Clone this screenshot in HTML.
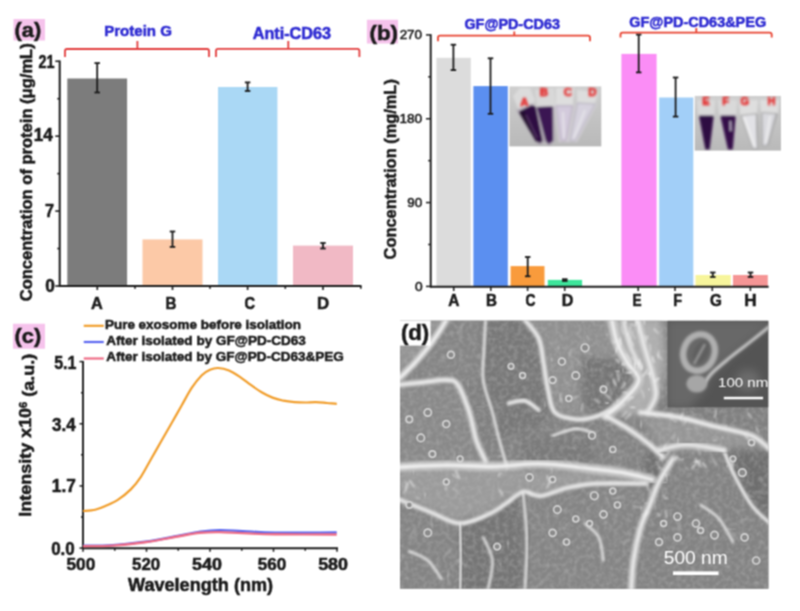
<!DOCTYPE html><html><head><meta charset="utf-8"><style>html,body{margin:0;padding:0;background:#fff;}svg{display:block;}text{font-family:"Liberation Sans", sans-serif;}</style></head><body>
<svg width="800" height="611" viewBox="0 0 800 611">
<defs><filter id="soft" x="0" y="0" width="800" height="611" filterUnits="userSpaceOnUse" color-interpolation-filters="sRGB"><feConvolveMatrix order="3" kernelMatrix="1 2 1 2 4 2 1 2 1" divisor="16" edgeMode="duplicate"/></filter></defs>
<g filter="url(#soft)">
<rect width="800" height="611" fill="#ffffff"/>
<rect x="13.5" y="19" width="31.5" height="21.5" fill="#f6c3ec" />
<text x="14.62" y="36.65" font-size="21" font-weight="bold" fill="#1a1a1a" textLength="26.67" lengthAdjust="spacingAndGlyphs" stroke="#1a1a1a" stroke-width="0.55">(a)</text>
<text x="104.2" y="36.15" font-size="15.2" font-weight="bold" fill="#2e2bd2" textLength="67.76" lengthAdjust="spacingAndGlyphs" stroke="#2e2bd2" stroke-width="0.55">Protein G</text>
<text x="252.7" y="38.95" font-size="16.0" font-weight="bold" fill="#2e2bd2" textLength="78.34" lengthAdjust="spacingAndGlyphs" stroke="#2e2bd2" stroke-width="0.55">Anti-CD63</text>
<path d="M65 57 L65 51 Q65 49 67 49 L207 49 Q209 49 209 51 L209 57 M137.4 49 L137.4 41" fill="none" stroke="#e23a3a" stroke-width="1.8"/>
<path d="M216 57 L216 50.8 Q216 48.8 218 48.8 L357.4 48.8 Q359.4 48.8 359.4 50.8 L359.4 57 M288.3 48.8 L288.3 41" fill="none" stroke="#e23a3a" stroke-width="1.8"/>
<rect x="67.3" y="78.5" width="59.8" height="207.5" fill="#7c7c7c" />
<rect x="142.5" y="239.4" width="60" height="46.599999999999994" fill="#fcc9a7" />
<rect x="218" y="87" width="59.4" height="199.0" fill="#aad8f5" />
<rect x="293" y="245.6" width="60" height="40.400000000000006" fill="#f1b9c5" />
<line x1="97.2" y1="63.1" x2="97.2" y2="92.5" stroke="#1a1a1a" stroke-width="1.8" />
<line x1="94.45" y1="63.1" x2="99.95" y2="63.1" stroke="#1a1a1a" stroke-width="1.8" />
<line x1="94.45" y1="92.5" x2="99.95" y2="92.5" stroke="#1a1a1a" stroke-width="1.8" />
<line x1="172.5" y1="231.5" x2="172.5" y2="246.9" stroke="#1a1a1a" stroke-width="1.8" />
<line x1="169.75" y1="231.5" x2="175.25" y2="231.5" stroke="#1a1a1a" stroke-width="1.8" />
<line x1="169.75" y1="246.9" x2="175.25" y2="246.9" stroke="#1a1a1a" stroke-width="1.8" />
<line x1="247.6" y1="82.4" x2="247.6" y2="91" stroke="#1a1a1a" stroke-width="1.8" />
<line x1="244.85" y1="82.4" x2="250.35" y2="82.4" stroke="#1a1a1a" stroke-width="1.8" />
<line x1="244.85" y1="91" x2="250.35" y2="91" stroke="#1a1a1a" stroke-width="1.8" />
<line x1="323" y1="243" x2="323" y2="248.5" stroke="#1a1a1a" stroke-width="1.8" />
<line x1="320.25" y1="243" x2="325.75" y2="243" stroke="#1a1a1a" stroke-width="1.8" />
<line x1="320.25" y1="248.5" x2="325.75" y2="248.5" stroke="#1a1a1a" stroke-width="1.8" />
<line x1="59.7" y1="60.5" x2="59.7" y2="286.8" stroke="#1a1a1a" stroke-width="2" />
<line x1="58.8" y1="285.9" x2="361.5" y2="285.9" stroke="#1a1a1a" stroke-width="2" />
<line x1="55.3" y1="286.0" x2="59.7" y2="286.0" stroke="#1a1a1a" stroke-width="1.6" />
<line x1="55.3" y1="211.08333333333331" x2="59.7" y2="211.08333333333331" stroke="#1a1a1a" stroke-width="1.6" />
<line x1="55.3" y1="136.16666666666666" x2="59.7" y2="136.16666666666666" stroke="#1a1a1a" stroke-width="1.6" />
<line x1="55.3" y1="61.25" x2="59.7" y2="61.25" stroke="#1a1a1a" stroke-width="1.6" />
<line x1="57.3" y1="248.54166666666666" x2="59.7" y2="248.54166666666666" stroke="#1a1a1a" stroke-width="1.6" />
<line x1="57.3" y1="173.625" x2="59.7" y2="173.625" stroke="#1a1a1a" stroke-width="1.6" />
<line x1="57.3" y1="98.70833333333334" x2="59.7" y2="98.70833333333334" stroke="#1a1a1a" stroke-width="1.6" />
<line x1="97.3" y1="285.9" x2="97.3" y2="290" stroke="#1a1a1a" stroke-width="1.6" />
<line x1="172.5" y1="285.9" x2="172.5" y2="290" stroke="#1a1a1a" stroke-width="1.6" />
<line x1="247.6" y1="285.9" x2="247.6" y2="290" stroke="#1a1a1a" stroke-width="1.6" />
<line x1="323" y1="285.9" x2="323" y2="290" stroke="#1a1a1a" stroke-width="1.6" />
<line x1="135" y1="285.9" x2="135" y2="288.8" stroke="#1a1a1a" stroke-width="1.6" />
<line x1="210" y1="285.9" x2="210" y2="288.8" stroke="#1a1a1a" stroke-width="1.6" />
<line x1="285.3" y1="285.9" x2="285.3" y2="288.8" stroke="#1a1a1a" stroke-width="1.6" />
<line x1="360.8" y1="285.9" x2="360.8" y2="288.8" stroke="#1a1a1a" stroke-width="1.6" />
<text x="38.62" y="67.88" font-size="18" font-weight="bold" fill="#1a1a1a" textLength="16.03" lengthAdjust="spacingAndGlyphs" stroke="#1a1a1a" stroke-width="0.55">21</text>
<text x="33.75" y="140.62" font-size="18" font-weight="bold" fill="#1a1a1a" textLength="19.03" lengthAdjust="spacingAndGlyphs" stroke="#1a1a1a" stroke-width="0.55">14</text>
<text x="45.12" y="217.25" font-size="18" font-weight="bold" fill="#1a1a1a" textLength="9.02" lengthAdjust="spacingAndGlyphs" stroke="#1a1a1a" stroke-width="0.55">7</text>
<text x="45.2" y="291.5" font-size="18" font-weight="bold" fill="#1a1a1a" textLength="9.62" lengthAdjust="spacingAndGlyphs" stroke="#1a1a1a" stroke-width="0.55">0</text>
<text x="91.02" y="308.95" font-size="17.4" font-weight="bold" fill="#1a1a1a" textLength="11.76" lengthAdjust="spacingAndGlyphs" stroke="#1a1a1a" stroke-width="0.55">A</text>
<text x="165.58" y="309.15" font-size="17.4" font-weight="bold" fill="#1a1a1a" textLength="10.96" lengthAdjust="spacingAndGlyphs" stroke="#1a1a1a" stroke-width="0.55">B</text>
<text x="244.4" y="309.25" font-size="17.4" font-weight="bold" fill="#1a1a1a" textLength="10.56" lengthAdjust="spacingAndGlyphs" stroke="#1a1a1a" stroke-width="0.55">C</text>
<text x="316.92" y="309.15" font-size="17.4" font-weight="bold" fill="#1a1a1a" textLength="12.16" lengthAdjust="spacingAndGlyphs" stroke="#1a1a1a" stroke-width="0.55">D</text>
<text transform="translate(31.85,301.3) rotate(-90)" font-size="16.5" font-weight="bold" fill="#1a1a1a" textLength="257.98" lengthAdjust="spacingAndGlyphs" stroke="#1a1a1a" stroke-width="0.55">Concentration of protein (μg/mL)</text>
<rect x="366.9" y="19.75" width="31.1" height="23.75" fill="#f6c3ec" />
<text x="369.55" y="39.9" font-size="21" font-weight="bold" fill="#1a1a1a" textLength="28.43" lengthAdjust="spacingAndGlyphs" stroke="#1a1a1a" stroke-width="0.55">(b)</text>
<rect x="436.4" y="57.8" width="34.400000000000034" height="228.59999999999997" fill="#dcdcdc" />
<rect x="473.4" y="86.1" width="34.400000000000034" height="200.29999999999998" fill="#5b8ff0" />
<rect x="510.6" y="266.1" width="33.89999999999998" height="20.299999999999955" fill="#f99b3c" />
<rect x="547.8" y="279.9" width="34.30000000000007" height="6.5" fill="#3ee59b" />
<rect x="621.4" y="53.9" width="35.200000000000045" height="232.49999999999997" fill="#fb8df6" />
<rect x="659.2" y="97.5" width="34.09999999999991" height="188.89999999999998" fill="#a2cff8" />
<rect x="695.5" y="275" width="35.200000000000045" height="11.399999999999977" fill="#f7f59c" />
<rect x="733" y="275" width="34.799999999999955" height="11.399999999999977" fill="#f59595" />
<defs><linearGradient id="ig1" x1="0" y1="0" x2="0" y2="1"><stop offset="0" stop-color="#cfcfcf"/><stop offset="0.35" stop-color="#c6c6c6"/><stop offset="1" stop-color="#b9b9b9"/></linearGradient><filter id="pb" x="-60%" y="-60%" width="220%" height="220%"><feGaussianBlur stdDeviation="0.8"/></filter><clipPath id="ic1"><rect x="509.4" y="86.4" width="91.9" height="60"/></clipPath><clipPath id="ic2"><rect x="694.75" y="95.9" width="86.2" height="54.7"/></clipPath></defs>
<rect x="509.4" y="86.4" width="91.9" height="60" fill="url(#ig1)" />
<g clip-path="url(#ic1)"><g filter="url(#pb)">
<path d="M513 96 L520 88 L530 88 L535 100 L533 106 L519 111 Z" fill="#dedede" opacity="0.85" />
<path d="M535 90 L554 88 L556 106 L537 107 Z" fill="#dadada" opacity="0.85" />
<path d="M556 88 L574 88 L573 106 L556 106 Z" fill="#e2e2e2" opacity="0.85" />
<path d="M577 90 L598 92 L595 104 L577 103 Z" fill="#e0e0e0" opacity="0.85" />
<path d="M516 110 L533 103 L546 141 L540 145 L536 143 Z" fill="#a9a0ae" opacity="0.7" />
<path d="M535 107 L554 106 L555 141 L549 146 L545 142 Z" fill="#a9a0ae" opacity="0.7" />
<path d="M554.5 105 L574 105 L568 142 L559 142 Z" fill="#d9d4de" opacity="0.9" />
<path d="M576 102 L597 104 L577 142 L568 142 Z" fill="#d6d3da" opacity="0.9" />
<path d="M518.8 111.4 L531.9 105.1 L535.6 107 L542.5 140.8 L540 143.3 L536 140.8 Z" fill="#2f0f42" opacity="1" />
<path d="M519 113 L524 111 L537 141 L536 142 Z" fill="#1f0a2a" opacity="0.8" />
<path d="M536.9 107 L552.5 106.4 L553 140.8 L548.8 143.9 L546 140.8 Z" fill="#3a1253" opacity="1" />
<path d="M556 105.8 L572.5 105.8 L566 140.8 L561 140.8 Z" fill="#d3cadc" opacity="1" stroke="#a8a0b0" stroke-width="0.8"/>
<path d="M577.5 103 L595 104 L575 140.8 L570 140.8 Z" fill="#d6d2de" opacity="1" stroke="#a8a4b0" stroke-width="0.8"/>
<path d="M526 115 L537 138" stroke="#6a4a7a" stroke-width="1.5" opacity="0.7"/>
<path d="M563 112 L564 138" stroke="#f0f0f0" stroke-width="1.5" opacity="0.8"/>
<path d="M585 110 L574 138" stroke="#f0f0f0" stroke-width="1.5" opacity="0.8"/>
</g>
<text x="524.4" y="105.6" font-size="11.5" font-weight="bold" text-anchor="middle" fill="#e62222" filter="url(#pb)" stroke="#e62222" stroke-width="0.5">A</text>
<text x="544" y="96.3" font-size="11.5" font-weight="bold" text-anchor="middle" fill="#e62222" filter="url(#pb)" stroke="#e62222" stroke-width="0.5">B</text>
<text x="567.9" y="95.7" font-size="11.5" font-weight="bold" text-anchor="middle" fill="#e62222" filter="url(#pb)" stroke="#e62222" stroke-width="0.5">C</text>
<text x="592.5" y="96.4" font-size="11.5" font-weight="bold" text-anchor="middle" fill="#e62222" filter="url(#pb)" stroke="#e62222" stroke-width="0.5">D</text>
</g>
<rect x="694.75" y="95.9" width="86.2" height="54.7" fill="url(#ig1)" />
<g clip-path="url(#ic2)"><g filter="url(#pb)">
<path d="M697 100 L715 100 L714.5 116 L698 116 Z" fill="#dcdcdc" opacity="0.85" />
<path d="M718 100 L737 100 L736.5 116 L719 116 Z" fill="#dcdcdc" opacity="0.85" />
<path d="M739 100 L758 100 L757 115 L740 115 Z" fill="#e2e2e2" opacity="0.85" />
<path d="M760 100 L779 100 L778 114 L761 114 Z" fill="#e2e2e2" opacity="0.85" />
<path d="M698.9 115.5 L713.75 115.5 L709.6 149.4 L705.4 149.4 Z" fill="#2f0b42" opacity="1" />
<path d="M720.3 115.5 L735.7 115.5 L732.75 149.4 L728 149.4 Z" fill="#340c4a" opacity="1" />
<path d="M730.4 121 L730.6 131" stroke="#e8e0f0" stroke-width="1.6" opacity="0.85"/>
<path d="M741 115.5 L756.5 113.75 L757.7 148.8 L753 148.8 Z" fill="#e2e2e6" opacity="1" stroke="#9c9c9c" stroke-width="1"/>
<path d="M744 117 L754 146" stroke="#f4f4f4" stroke-width="2" opacity="0.9"/>
<path d="M756.5 114 L757.5 148" stroke="#9a9a9a" stroke-width="1.2" opacity="0.8"/>
<path d="M761.9 112.6 L777.3 113.75 L767.2 145.8 L762.4 145.8 Z" fill="#d9d9de" opacity="1" stroke="#a0a0a0" stroke-width="1"/>
<path d="M770 116 L766 143" stroke="#f2f2f2" stroke-width="1.8" opacity="0.9"/>
<path d="M776 114 L768 145" stroke="#999999" stroke-width="1.1" opacity="0.7"/>
</g>
<text x="706" y="104.8" font-size="11" font-weight="bold" text-anchor="middle" fill="#e62222" filter="url(#pb)" stroke="#e62222" stroke-width="0.5">E</text>
<text x="725.5" y="104.8" font-size="11" font-weight="bold" text-anchor="middle" fill="#e62222" filter="url(#pb)" stroke="#e62222" stroke-width="0.5">F</text>
<text x="744.7" y="105.4" font-size="11" font-weight="bold" text-anchor="middle" fill="#e62222" filter="url(#pb)" stroke="#e62222" stroke-width="0.5">G</text>
<text x="771.6" y="104.8" font-size="11" font-weight="bold" text-anchor="middle" fill="#e62222" filter="url(#pb)" stroke="#e62222" stroke-width="0.5">H</text>
</g>
<line x1="453.4" y1="44.7" x2="453.4" y2="70.1" stroke="#1a1a1a" stroke-width="1.8" />
<line x1="450.65" y1="44.7" x2="456.15" y2="44.7" stroke="#1a1a1a" stroke-width="1.8" />
<line x1="450.65" y1="70.1" x2="456.15" y2="70.1" stroke="#1a1a1a" stroke-width="1.8" />
<line x1="490.5" y1="58.3" x2="490.5" y2="113.8" stroke="#1a1a1a" stroke-width="1.8" />
<line x1="487.75" y1="58.3" x2="493.25" y2="58.3" stroke="#1a1a1a" stroke-width="1.8" />
<line x1="487.75" y1="113.8" x2="493.25" y2="113.8" stroke="#1a1a1a" stroke-width="1.8" />
<line x1="527.7" y1="257" x2="527.7" y2="276.3" stroke="#1a1a1a" stroke-width="1.8" />
<line x1="524.95" y1="257" x2="530.45" y2="257" stroke="#1a1a1a" stroke-width="1.8" />
<line x1="524.95" y1="276.3" x2="530.45" y2="276.3" stroke="#1a1a1a" stroke-width="1.8" />
<line x1="564.8" y1="279.2" x2="564.8" y2="281" stroke="#1a1a1a" stroke-width="1.8" />
<line x1="562.05" y1="279.2" x2="567.55" y2="279.2" stroke="#1a1a1a" stroke-width="1.8" />
<line x1="562.05" y1="281" x2="567.55" y2="281" stroke="#1a1a1a" stroke-width="1.8" />
<line x1="638.7" y1="34.6" x2="638.7" y2="72.4" stroke="#1a1a1a" stroke-width="1.8" />
<line x1="635.95" y1="34.6" x2="641.45" y2="34.6" stroke="#1a1a1a" stroke-width="1.8" />
<line x1="635.95" y1="72.4" x2="641.45" y2="72.4" stroke="#1a1a1a" stroke-width="1.8" />
<line x1="675.6" y1="77.5" x2="675.6" y2="116.6" stroke="#1a1a1a" stroke-width="1.8" />
<line x1="672.85" y1="77.5" x2="678.35" y2="77.5" stroke="#1a1a1a" stroke-width="1.8" />
<line x1="672.85" y1="116.6" x2="678.35" y2="116.6" stroke="#1a1a1a" stroke-width="1.8" />
<line x1="712.8" y1="272.5" x2="712.8" y2="277" stroke="#1a1a1a" stroke-width="1.8" />
<line x1="710.05" y1="272.5" x2="715.55" y2="272.5" stroke="#1a1a1a" stroke-width="1.8" />
<line x1="710.05" y1="277" x2="715.55" y2="277" stroke="#1a1a1a" stroke-width="1.8" />
<line x1="750.5" y1="272.5" x2="750.5" y2="277" stroke="#1a1a1a" stroke-width="1.8" />
<line x1="747.75" y1="272.5" x2="753.25" y2="272.5" stroke="#1a1a1a" stroke-width="1.8" />
<line x1="747.75" y1="277" x2="753.25" y2="277" stroke="#1a1a1a" stroke-width="1.8" />
<line x1="430.7" y1="34.2" x2="430.7" y2="287.5" stroke="#1a1a1a" stroke-width="1.9" />
<line x1="430" y1="286.75" x2="768.6" y2="286.75" stroke="#1a1a1a" stroke-width="1.9" />
<line x1="426" y1="286.4" x2="430.7" y2="286.4" stroke="#1a1a1a" stroke-width="1.5" />
<line x1="426" y1="202.56666666666666" x2="430.7" y2="202.56666666666666" stroke="#1a1a1a" stroke-width="1.5" />
<line x1="426" y1="118.73333333333332" x2="430.7" y2="118.73333333333332" stroke="#1a1a1a" stroke-width="1.5" />
<line x1="426" y1="34.900000000000006" x2="430.7" y2="34.900000000000006" stroke="#1a1a1a" stroke-width="1.5" />
<line x1="428.2" y1="244.48333333333332" x2="430.7" y2="244.48333333333332" stroke="#1a1a1a" stroke-width="1.5" />
<line x1="428.2" y1="160.64999999999998" x2="430.7" y2="160.64999999999998" stroke="#1a1a1a" stroke-width="1.5" />
<line x1="428.2" y1="76.81666666666666" x2="430.7" y2="76.81666666666666" stroke="#1a1a1a" stroke-width="1.5" />
<line x1="453.7" y1="286.75" x2="453.7" y2="291" stroke="#1a1a1a" stroke-width="1.5" />
<line x1="490.8" y1="286.75" x2="490.8" y2="291" stroke="#1a1a1a" stroke-width="1.5" />
<line x1="527.6" y1="286.75" x2="527.6" y2="291" stroke="#1a1a1a" stroke-width="1.5" />
<line x1="564.7" y1="286.75" x2="564.7" y2="291" stroke="#1a1a1a" stroke-width="1.5" />
<line x1="638.2" y1="286.75" x2="638.2" y2="291" stroke="#1a1a1a" stroke-width="1.5" />
<line x1="675" y1="286.75" x2="675" y2="291" stroke="#1a1a1a" stroke-width="1.5" />
<line x1="712.3" y1="286.75" x2="712.3" y2="291" stroke="#1a1a1a" stroke-width="1.5" />
<line x1="750.4" y1="286.75" x2="750.4" y2="291" stroke="#1a1a1a" stroke-width="1.5" />
<text x="399.65" y="39.07" font-size="13.4" font-weight="normal" fill="#1a1a1a" textLength="22.34" lengthAdjust="spacingAndGlyphs" stroke="#1a1a1a" stroke-width="0.55">270</text>
<text x="399.4" y="122.6" font-size="13.4" font-weight="normal" fill="#1a1a1a" textLength="22.74" lengthAdjust="spacingAndGlyphs" stroke="#1a1a1a" stroke-width="0.55">180</text>
<text x="407.25" y="206.95" font-size="13.4" font-weight="normal" fill="#1a1a1a" textLength="14.91" lengthAdjust="spacingAndGlyphs" stroke="#1a1a1a" stroke-width="0.55">90</text>
<text x="415.1" y="290.7" font-size="13.4" font-weight="normal" fill="#1a1a1a" textLength="7.65" lengthAdjust="spacingAndGlyphs" stroke="#1a1a1a" stroke-width="0.55">0</text>
<text x="448.35" y="305.8" font-size="16" font-weight="bold" fill="#1a1a1a" textLength="11.16" lengthAdjust="spacingAndGlyphs" stroke="#1a1a1a" stroke-width="0.55">A</text>
<text x="486.1" y="305.8" font-size="16" font-weight="bold" fill="#1a1a1a" textLength="10.96" lengthAdjust="spacingAndGlyphs" stroke="#1a1a1a" stroke-width="0.55">B</text>
<text x="525.6" y="305.85" font-size="16" font-weight="bold" fill="#1a1a1a" textLength="9.96" lengthAdjust="spacingAndGlyphs" stroke="#1a1a1a" stroke-width="0.55">C</text>
<text x="561.85" y="305.8" font-size="16" font-weight="bold" fill="#1a1a1a" textLength="11.56" lengthAdjust="spacingAndGlyphs" stroke="#1a1a1a" stroke-width="0.55">D</text>
<text x="632.55" y="306.2" font-size="16" font-weight="bold" fill="#1a1a1a" textLength="9.07" lengthAdjust="spacingAndGlyphs" stroke="#1a1a1a" stroke-width="0.55">E</text>
<text x="673.15" y="306.2" font-size="16" font-weight="bold" fill="#1a1a1a" textLength="8.78" lengthAdjust="spacingAndGlyphs" stroke="#1a1a1a" stroke-width="0.55">F</text>
<text x="710.0" y="306.25" font-size="16" font-weight="bold" fill="#1a1a1a" textLength="11.85" lengthAdjust="spacingAndGlyphs" stroke="#1a1a1a" stroke-width="0.55">G</text>
<text x="744.15" y="306.2" font-size="16" font-weight="bold" fill="#1a1a1a" textLength="12.36" lengthAdjust="spacingAndGlyphs" stroke="#1a1a1a" stroke-width="0.55">H</text>
<text transform="translate(395.75,259.45) rotate(-90)" font-size="16.5" font-weight="bold" fill="#1a1a1a" textLength="180.3" lengthAdjust="spacingAndGlyphs" stroke="#1a1a1a" stroke-width="0.55">Concentration (mg/mL)</text>
<text x="464.45" y="28.73" font-size="14.2" font-weight="bold" fill="#2e2bd2" textLength="95.45" lengthAdjust="spacingAndGlyphs" stroke="#2e2bd2" stroke-width="0.55">GF@PD-CD63</text>
<text x="629.25" y="26.75" font-size="14.0" font-weight="bold" fill="#2e2bd2" textLength="136.87" lengthAdjust="spacingAndGlyphs" stroke="#2e2bd2" stroke-width="0.55">GF@PD-CD63&amp;PEG</text>
<path d="M438 41.2 L438 37.6 Q438 35.6 440 35.6 L588 35.6 Q590 35.6 590 37.6 L590 41.2 M514.3 35.6 L514.3 31.4" fill="none" stroke="#e8402e" stroke-width="1.8"/>
<path d="M620.5 37.5 L620.5 34.6 Q620.5 32.6 622.5 32.6 L769.7 32.6 Q771.7 32.6 771.7 34.6 L771.7 37.5 M696.3 32.6 L696.3 28" fill="none" stroke="#e8402e" stroke-width="1.8"/>
<rect x="13" y="323.75" width="32" height="25" fill="#f6c3ec" />
<text x="14.5" y="343.0" font-size="21" font-weight="bold" fill="#1a1a1a" textLength="26.67" lengthAdjust="spacingAndGlyphs" stroke="#1a1a1a" stroke-width="0.55">(c)</text>
<line x1="83" y1="361" x2="83" y2="549" stroke="#1a1a1a" stroke-width="1.9" />
<line x1="82.2" y1="548.2" x2="338" y2="548.2" stroke="#1a1a1a" stroke-width="1.9" />
<line x1="79.5" y1="548.1" x2="83" y2="548.1" stroke="#1a1a1a" stroke-width="1.5" />
<line x1="79.5" y1="485.93333333333334" x2="83" y2="485.93333333333334" stroke="#1a1a1a" stroke-width="1.5" />
<line x1="79.5" y1="423.7666666666667" x2="83" y2="423.7666666666667" stroke="#1a1a1a" stroke-width="1.5" />
<line x1="79.5" y1="361.6" x2="83" y2="361.6" stroke="#1a1a1a" stroke-width="1.5" />
<line x1="81" y1="517.0166666666667" x2="83" y2="517.0166666666667" stroke="#1a1a1a" stroke-width="1.5" />
<line x1="81" y1="454.85" x2="83" y2="454.85" stroke="#1a1a1a" stroke-width="1.5" />
<line x1="81" y1="392.68333333333334" x2="83" y2="392.68333333333334" stroke="#1a1a1a" stroke-width="1.5" />
<line x1="83.0" y1="548.2" x2="83.0" y2="551.8" stroke="#1a1a1a" stroke-width="1.5" />
<line x1="114.75" y1="548.2" x2="114.75" y2="550.8" stroke="#1a1a1a" stroke-width="1.5" />
<line x1="146.5" y1="548.2" x2="146.5" y2="551.8" stroke="#1a1a1a" stroke-width="1.5" />
<line x1="178.25" y1="548.2" x2="178.25" y2="550.8" stroke="#1a1a1a" stroke-width="1.5" />
<line x1="210.0" y1="548.2" x2="210.0" y2="551.8" stroke="#1a1a1a" stroke-width="1.5" />
<line x1="241.75" y1="548.2" x2="241.75" y2="550.8" stroke="#1a1a1a" stroke-width="1.5" />
<line x1="273.5" y1="548.2" x2="273.5" y2="551.8" stroke="#1a1a1a" stroke-width="1.5" />
<line x1="305.25" y1="548.2" x2="305.25" y2="550.8" stroke="#1a1a1a" stroke-width="1.5" />
<line x1="337.0" y1="548.2" x2="337.0" y2="551.8" stroke="#1a1a1a" stroke-width="1.5" />
<text x="54.18" y="369.0" font-size="18.4" font-weight="bold" fill="#1a1a1a" textLength="22.18" lengthAdjust="spacingAndGlyphs" stroke="#1a1a1a" stroke-width="0.55">5.1</text>
<text x="52.0" y="430.55" font-size="18.4" font-weight="bold" fill="#1a1a1a" textLength="23.58" lengthAdjust="spacingAndGlyphs" stroke="#1a1a1a" stroke-width="0.55">3.4</text>
<text x="51.85" y="492.3" font-size="18.4" font-weight="bold" fill="#1a1a1a" textLength="23.98" lengthAdjust="spacingAndGlyphs" stroke="#1a1a1a" stroke-width="0.55">1.7</text>
<text x="51.15" y="555.25" font-size="18.4" font-weight="bold" fill="#1a1a1a" textLength="23.58" lengthAdjust="spacingAndGlyphs" stroke="#1a1a1a" stroke-width="0.55">0.0</text>
<text x="66.55" y="570.35" font-size="17.2" font-weight="bold" fill="#1a1a1a" textLength="28.69" lengthAdjust="spacingAndGlyphs" stroke="#1a1a1a" stroke-width="0.55">500</text>
<text x="132.05" y="570.35" font-size="17.2" font-weight="bold" fill="#1a1a1a" textLength="28.09" lengthAdjust="spacingAndGlyphs" stroke="#1a1a1a" stroke-width="0.55">520</text>
<text x="192.05" y="570.4" font-size="17.2" font-weight="bold" fill="#1a1a1a" textLength="29.89" lengthAdjust="spacingAndGlyphs" stroke="#1a1a1a" stroke-width="0.55">540</text>
<text x="257.8" y="570.4" font-size="17.2" font-weight="bold" fill="#1a1a1a" textLength="28.49" lengthAdjust="spacingAndGlyphs" stroke="#1a1a1a" stroke-width="0.55">560</text>
<text x="318.15" y="570.4" font-size="17.2" font-weight="bold" fill="#1a1a1a" textLength="29.89" lengthAdjust="spacingAndGlyphs" stroke="#1a1a1a" stroke-width="0.55">580</text>
<text x="128.0" y="591.2" font-size="17.6" font-weight="bold" fill="#1a1a1a" textLength="145.08" lengthAdjust="spacingAndGlyphs" stroke="#1a1a1a" stroke-width="0.55">Wavelength (nm)</text>
<text transform="translate(31.4,516.7) rotate(-90)" font-size="16.6" font-weight="bold" fill="#1a1a1a" textLength="162.9" lengthAdjust="spacingAndGlyphs" stroke="#1a1a1a" stroke-width="0.55">Intensity x10<tspan font-size="0.62em" dy="-0.42em">6</tspan><tspan dy="0.42em"> (a.u.)</tspan></text>
<line x1="83.75" y1="325.8" x2="103.75" y2="325.8" stroke="#f19d2a" stroke-width="2.2" />
<line x1="83.75" y1="342" x2="103.75" y2="342" stroke="#5a66f0" stroke-width="2.2" />
<line x1="83.75" y1="358.5" x2="103.75" y2="358.5" stroke="#ee6c86" stroke-width="2.2" />
<text x="104.95" y="328.55" font-size="13.2" font-weight="bold" fill="#1c1c1c" textLength="196.02" lengthAdjust="spacingAndGlyphs" stroke="#1c1c1c" stroke-width="0.55">Pure exosome before isolation</text>
<text x="106.2" y="344.8" font-size="13.2" font-weight="bold" fill="#1c1c1c" textLength="199.59" lengthAdjust="spacingAndGlyphs" stroke="#1c1c1c" stroke-width="0.55">After isolated by GF@PD-CD63</text>
<text x="106.15" y="361.05" font-size="13.2" font-weight="bold" fill="#1c1c1c" textLength="237.57" lengthAdjust="spacingAndGlyphs" stroke="#1c1c1c" stroke-width="0.55">After isolated by GF@PD-CD63&amp;PEG</text>
<path d="M83 545.7 C87.9 545.6 102.2 545.8 112.5 545.1 C122.8 544.5 134.2 543.3 145.0 541.8 C155.8 540.3 168.3 537.7 177.5 536.0 C186.7 534.3 193.2 532.8 200.2 531.8 C207.2 530.8 212.6 530.2 219.7 530.1 C226.8 530.0 233.3 530.7 242.5 531.1 C251.7 531.5 259.3 532.5 275.0 532.7 C290.7 532.9 326.4 532.5 336.7 532.5" fill="none" stroke="#5a66f0" stroke-width="2.4"/>
<path d="M83 546.2 C87.9 546.1 102.2 546.3 112.5 545.6 C122.8 544.9 134.2 543.7 145.0 542.2 C155.8 540.7 168.3 538.1 177.5 536.5 C186.7 534.9 193.2 533.5 200.2 532.8 C207.2 532.1 212.6 532.0 219.7 532.1 C226.8 532.2 233.3 532.8 242.5 533.1 C251.7 533.5 259.3 534.0 275.0 534.2 C290.7 534.4 326.4 534.5 336.7 534.5" fill="none" stroke="#ee6c86" stroke-width="2.4"/>
<path d="M83 511 C85.0 510.8 91.5 510.6 95.2 509.7 C98.9 508.8 101.6 507.6 105.4 505.9 C109.2 504.2 113.9 502.4 118.1 499.6 C122.3 496.9 127.0 493.2 130.8 489.4 C134.6 485.6 137.5 481.9 140.9 476.8 C144.3 471.7 147.7 464.9 151.1 459.0 C154.5 453.1 157.8 447.1 161.2 441.2 C164.6 435.3 168.0 429.4 171.4 423.5 C174.8 417.6 178.1 411.6 181.5 405.7 C184.9 399.8 188.3 393.0 191.7 387.9 C195.1 382.8 198.8 378.2 201.8 375.2 C204.9 372.2 207.3 371.0 210.0 369.8 C212.7 368.6 214.9 367.9 218.1 368.0 C221.3 368.1 225.4 368.9 229.0 370.4 C232.6 371.9 236.3 374.4 239.9 376.8 C243.5 379.2 247.2 382.3 250.8 384.9 C254.4 387.5 258.0 390.1 261.6 392.2 C265.2 394.3 268.9 396.2 272.5 397.6 C276.1 399.0 279.8 399.9 283.4 400.7 C287.0 401.4 290.7 401.8 294.3 402.1 C297.9 402.4 301.5 402.5 305.1 402.5 C308.7 402.5 312.4 402.0 316.0 402.1 C319.6 402.2 323.4 402.7 326.9 403.0 C330.4 403.3 335.1 403.8 336.8 403.9" fill="none" stroke="#f19d2a" stroke-width="2.2"/>
<defs><clipPath id="semclip"><rect x="400" y="320.6" width="368.5" height="268.2"/></clipPath><filter id="b1" x="-30%" y="-30%" width="160%" height="160%"><feGaussianBlur stdDeviation="4"/></filter><filter id="b2" x="-30%" y="-30%" width="160%" height="160%"><feGaussianBlur stdDeviation="0.85"/></filter><filter id="b3" x="-20%" y="-20%" width="140%" height="140%"><feGaussianBlur stdDeviation="2.5"/></filter><filter id="b5" x="-50%" y="-50%" width="200%" height="200%"><feGaussianBlur stdDeviation="0.55"/></filter><filter id="b4" x="-20%" y="-20%" width="140%" height="140%"><feGaussianBlur stdDeviation="1.2"/></filter><filter id="noise" x="0" y="0" width="100%" height="100%"><feTurbulence type="fractalNoise" baseFrequency="0.22" numOctaves="2" seed="4"/><feColorMatrix type="matrix" values="0 0 0 0 0.5  0 0 0 0 0.5  0 0 0 0 0.5  1.6 0 0 0 -0.6"/></filter></defs>
<g clip-path="url(#semclip)">
<rect x="400" y="320.6" width="368.5" height="268.2" fill="#808080" />
<path d="M395.4 315.4 L446.3 315.4 L439.3 331.6 L427.8 347.8 L413.9 363.9 L400.0 377.8 L395.4 377.8 Z" fill="#949494" opacity="1" filter="url(#b1)"/>
<path d="M446.3 315.4 L485.6 315.4 L483.3 380.1 L457.8 384.8 L446.3 380.1 L423.1 382.4 L395.4 384.8 L400.0 377.8 L413.9 363.9 L427.8 347.8 L439.3 331.6 Z" fill="#858585" opacity="1" filter="url(#b1)"/>
<path d="M485.6 315.4 L524.9 315.4 L538.8 338.5 L543.4 361.6 L548.0 389.4 L554.9 412.5 L538.8 431.0 L499.4 440.3 L492.5 412.5 L483.3 380.1 Z" fill="#787878" opacity="1" filter="url(#b1)"/>
<path d="M524.9 315.4 L617.4 315.4 L626.6 375.5 L631.3 394.0 L617.4 412.5 L594.3 417.1 L575.8 419.4 L554.9 412.5 L548.0 389.4 L543.4 361.6 L538.8 338.5 Z" fill="#909090" opacity="1" filter="url(#b1)"/>
<path d="M611 318 L662 318 L666 360 L660 395 L645 415 L615 420 L604 416 L625 398 L638 380 L626 362 L616 342 Z" fill="#afafaf" opacity="1" filter="url(#b1)"/>
<path d="M580 356 L622 360 L634 380 L620 400 L600 416 L583 410 Z" fill="#757575" opacity="1" filter="url(#b1)"/>
<path d="M395.4 384.8 L423.1 382.4 L446.3 380.1 L457.8 384.8 L469.4 412.5 L476.3 440.3 L485.6 461.1 L478.6 468.0 L395.4 468.0 Z" fill="#898989" opacity="1" filter="url(#b1)"/>
<path d="M476.3 440.3 L499.4 440.3 L538.8 431.0 L554.9 412.5 L575.8 419.4 L594.3 417.1 L617.4 412.5 L640.5 419.4 L649.8 468.0 L485.6 465.7 Z" fill="#838383" opacity="1" filter="url(#b1)"/>
<path d="M640.5 412.5 L677.5 417.1 L714.5 426.4 L751.5 435.6 L774.7 449.5 L774.7 458.8 L723.8 454.1 L686.8 449.5 L659.0 454.1 Z" fill="#969696" opacity="1" filter="url(#b1)"/>
<path d="M723.8 449.5 L774.7 449.5 L774.7 523.5 L751.5 505.0 L733.0 472.6 Z" fill="#6e6e6e" opacity="1" filter="url(#b1)"/>
<path d="M395.4 464.3 L446.3 464.3 L492.5 465.7 L538.8 463.4 L585.0 467.1 L622.0 471.7 L652.1 479.6 L646 483.7 L596 483.7 L567 488 L541 496 L523 492 L506 503.6 L488 514.6 L459.6 523.4 L430 512 L398 500 Z" fill="#9b9b9b" opacity="1" filter="url(#b1)"/>
<path d="M398 500 L430 512 L459.6 523.4 L462 592 L398 592 Z" fill="#848484" opacity="1" filter="url(#b1)"/>
<path d="M459.6 523.4 L488 514.6 L506 503.6 L523 492 L527 592 L462 592 Z" fill="#757575" opacity="1" filter="url(#b1)"/>
<path d="M524.9 502.7 L538.8 500.4 L594.3 488.8 L640.5 481.9 L649.8 479.6 L659.0 481.9 L649.8 505.0 L640.5 528.1 L633.6 560.5 L631.3 597.5 L524.9 597.5 Z" fill="#858585" opacity="1" filter="url(#b1)"/>
<path d="M672.9 458.8 L723.8 454.1 L733.0 472.6 L751.5 505.0 L774.7 523.5 L774.7 597.5 L631.3 597.5 L633.6 560.5 L640.5 528.1 L649.8 505.0 L659.0 481.9 Z" fill="#838383" opacity="1" filter="url(#b1)"/>
<path d="M646 452 L662 452 L662 488 L646 490 Z" fill="#707070" opacity="1" filter="url(#b1)"/>
<path d="M520.3 435.6 L594.3 435.6 L594.3 468.0 L520.3 468.0 Z" fill="#7a7a7a" opacity="1" filter="url(#b1)"/>
<rect x="400" y="320.6" width="368.5" height="268.2" filter="url(#noise)" opacity="0.5"/>
<path d="M400.0 377.8 C402.3 375.5 409.3 368.9 413.9 363.9 C418.5 358.9 423.6 353.2 427.8 347.8 C432.0 342.4 436.2 336.2 439.3 331.6 C442.4 327.0 445.1 321.9 446.3 320.0" transform="translate(1.6,1.8)" fill="none" stroke="#5a5a5a" stroke-width="3.3" stroke-linejoin="round" stroke-linecap="round" opacity="0.35" filter="url(#b4)"/>
<path d="M400.0 377.8 C402.3 375.5 409.3 368.9 413.9 363.9 C418.5 358.9 423.6 353.2 427.8 347.8 C432.0 342.4 436.2 336.2 439.3 331.6 C442.4 327.0 445.1 321.9 446.3 320.0" fill="none" stroke="#dedede" stroke-width="8" stroke-linejoin="round" stroke-linecap="round" opacity="0.62" filter="url(#b4)"/>
<path d="M400.0 377.8 C402.3 375.5 409.3 368.9 413.9 363.9 C418.5 358.9 423.6 353.2 427.8 347.8 C432.0 342.4 436.2 336.2 439.3 331.6 C442.4 327.0 445.1 321.9 446.3 320.0" fill="none" stroke="#f2f2f2" stroke-width="3" stroke-linejoin="round" stroke-linecap="round" opacity="1" filter="url(#b2)"/>
<path d="M400.0 384.8 C403.9 384.4 415.4 383.2 423.1 382.4 C430.8 381.6 440.5 379.7 446.3 380.1 C452.1 380.5 454.0 379.4 457.8 384.8 C461.6 390.2 466.3 403.2 469.4 412.5 C472.5 421.8 473.6 432.2 476.3 440.3 C479.0 448.4 484.1 457.6 485.6 461.1" transform="translate(1.6,1.8)" fill="none" stroke="#5a5a5a" stroke-width="2.9" stroke-linejoin="round" stroke-linecap="round" opacity="0.35" filter="url(#b4)"/>
<path d="M400.0 384.8 C403.9 384.4 415.4 383.2 423.1 382.4 C430.8 381.6 440.5 379.7 446.3 380.1 C452.1 380.5 454.0 379.4 457.8 384.8 C461.6 390.2 466.3 403.2 469.4 412.5 C472.5 421.8 473.6 432.2 476.3 440.3 C479.0 448.4 484.1 457.6 485.6 461.1" fill="none" stroke="#dedede" stroke-width="7" stroke-linejoin="round" stroke-linecap="round" opacity="0.62" filter="url(#b4)"/>
<path d="M400.0 384.8 C403.9 384.4 415.4 383.2 423.1 382.4 C430.8 381.6 440.5 379.7 446.3 380.1 C452.1 380.5 454.0 379.4 457.8 384.8 C461.6 390.2 466.3 403.2 469.4 412.5 C472.5 421.8 473.6 432.2 476.3 440.3 C479.0 448.4 484.1 457.6 485.6 461.1" fill="none" stroke="#f2f2f2" stroke-width="2.6" stroke-linejoin="round" stroke-linecap="round" opacity="1" filter="url(#b2)"/>
<path d="M485.6 320.0 C485.4 324.6 484.6 337.8 484.2 347.8 C483.8 357.8 481.9 369.3 483.3 380.1 C484.7 390.9 489.8 402.5 492.5 412.5 C495.2 422.5 496.9 431.1 499.4 440.3 C501.9 449.6 506.0 463.4 507.3 468.0" transform="translate(1.6,1.8)" fill="none" stroke="#5a5a5a" stroke-width="1.9" stroke-linejoin="round" stroke-linecap="round" opacity="0.35" filter="url(#b4)"/>
<path d="M485.6 320.0 C485.4 324.6 484.6 337.8 484.2 347.8 C483.8 357.8 481.9 369.3 483.3 380.1 C484.7 390.9 489.8 402.5 492.5 412.5 C495.2 422.5 496.9 431.1 499.4 440.3 C501.9 449.6 506.0 463.4 507.3 468.0" fill="none" stroke="#dedede" stroke-width="3" stroke-linejoin="round" stroke-linecap="round" opacity="0.62" filter="url(#b4)"/>
<path d="M485.6 320.0 C485.4 324.6 484.6 337.8 484.2 347.8 C483.8 357.8 481.9 369.3 483.3 380.1 C484.7 390.9 489.8 402.5 492.5 412.5 C495.2 422.5 496.9 431.1 499.4 440.3 C501.9 449.6 506.0 463.4 507.3 468.0" fill="none" stroke="#f2f2f2" stroke-width="1.4" stroke-linejoin="round" stroke-linecap="round" opacity="1" filter="url(#b2)"/>
<path d="M524.9 320.0 C527.2 323.1 535.7 331.6 538.8 338.5 C541.9 345.4 541.9 353.1 543.4 361.6 C544.9 370.1 546.1 380.9 548.0 389.4 C549.9 397.9 550.3 407.5 554.9 412.5 C559.5 417.5 569.2 418.6 575.8 419.4 C582.4 420.2 587.4 419.0 594.3 417.1 C601.2 415.2 613.5 409.4 617.4 407.9" transform="translate(1.6,1.8)" fill="none" stroke="#5a5a5a" stroke-width="2.8" stroke-linejoin="round" stroke-linecap="round" opacity="0.35" filter="url(#b4)"/>
<path d="M524.9 320.0 C527.2 323.1 535.7 331.6 538.8 338.5 C541.9 345.4 541.9 353.1 543.4 361.6 C544.9 370.1 546.1 380.9 548.0 389.4 C549.9 397.9 550.3 407.5 554.9 412.5 C559.5 417.5 569.2 418.6 575.8 419.4 C582.4 420.2 587.4 419.0 594.3 417.1 C601.2 415.2 613.5 409.4 617.4 407.9" fill="none" stroke="#dedede" stroke-width="6" stroke-linejoin="round" stroke-linecap="round" opacity="0.62" filter="url(#b4)"/>
<path d="M524.9 320.0 C527.2 323.1 535.7 331.6 538.8 338.5 C541.9 345.4 541.9 353.1 543.4 361.6 C544.9 370.1 546.1 380.9 548.0 389.4 C549.9 397.9 550.3 407.5 554.9 412.5 C559.5 417.5 569.2 418.6 575.8 419.4 C582.4 420.2 587.4 419.0 594.3 417.1 C601.2 415.2 613.5 409.4 617.4 407.9" fill="none" stroke="#f2f2f2" stroke-width="2.4" stroke-linejoin="round" stroke-linecap="round" opacity="1" filter="url(#b2)"/>
<path d="M508.7 403.3 C511.4 402.9 519.9 399.8 524.9 400.9 C529.9 402.0 536.5 408.6 538.8 410.2" transform="translate(1.6,1.8)" fill="none" stroke="#5a5a5a" stroke-width="2.6" stroke-linejoin="round" stroke-linecap="round" opacity="0.35" filter="url(#b4)"/>
<path d="M508.7 403.3 C511.4 402.9 519.9 399.8 524.9 400.9 C529.9 402.0 536.5 408.6 538.8 410.2" fill="none" stroke="#dedede" stroke-width="5" stroke-linejoin="round" stroke-linecap="round" opacity="0.62" filter="url(#b4)"/>
<path d="M508.7 403.3 C511.4 402.9 519.9 399.8 524.9 400.9 C529.9 402.0 536.5 408.6 538.8 410.2" fill="none" stroke="#f2f2f2" stroke-width="2.2" stroke-linejoin="round" stroke-linecap="round" opacity="1" filter="url(#b2)"/>
<path d="M612 320 C612.8 323.7 614.5 335.0 617.0 342.0 C619.5 349.0 623.3 355.7 627.0 362.0 C630.7 368.3 639.3 373.8 639.0 380.0 C638.7 386.2 630.5 393.0 625.0 399.0 C619.5 405.0 609.2 413.2 606.0 416.0" transform="translate(1.6,1.8)" fill="none" stroke="#5a5a5a" stroke-width="3.5" stroke-linejoin="round" stroke-linecap="round" opacity="0.35" filter="url(#b4)"/>
<path d="M612 320 C612.8 323.7 614.5 335.0 617.0 342.0 C619.5 349.0 623.3 355.7 627.0 362.0 C630.7 368.3 639.3 373.8 639.0 380.0 C638.7 386.2 630.5 393.0 625.0 399.0 C619.5 405.0 609.2 413.2 606.0 416.0" fill="none" stroke="#dedede" stroke-width="10" stroke-linejoin="round" stroke-linecap="round" opacity="0.62" filter="url(#b4)"/>
<path d="M612 320 C612.8 323.7 614.5 335.0 617.0 342.0 C619.5 349.0 623.3 355.7 627.0 362.0 C630.7 368.3 639.3 373.8 639.0 380.0 C638.7 386.2 630.5 393.0 625.0 399.0 C619.5 405.0 609.2 413.2 606.0 416.0" fill="none" stroke="#f2f2f2" stroke-width="3.2" stroke-linejoin="round" stroke-linecap="round" opacity="1" filter="url(#b2)"/>
<path d="M638 320 C639.0 324.2 641.7 336.3 644.0 345.0 C646.3 353.7 650.0 363.7 652.0 372.0 C654.0 380.3 656.7 388.3 656.0 395.0 C655.3 401.7 649.3 409.2 648.0 412.0" transform="translate(1.6,1.8)" fill="none" stroke="#5a5a5a" stroke-width="2.8" stroke-linejoin="round" stroke-linecap="round" opacity="0.35" filter="url(#b4)"/>
<path d="M638 320 C639.0 324.2 641.7 336.3 644.0 345.0 C646.3 353.7 650.0 363.7 652.0 372.0 C654.0 380.3 656.7 388.3 656.0 395.0 C655.3 401.7 649.3 409.2 648.0 412.0" fill="none" stroke="#dedede" stroke-width="8" stroke-linejoin="round" stroke-linecap="round" opacity="0.62" filter="url(#b4)"/>
<path d="M638 320 C639.0 324.2 641.7 336.3 644.0 345.0 C646.3 353.7 650.0 363.7 652.0 372.0 C654.0 380.3 656.7 388.3 656.0 395.0 C655.3 401.7 649.3 409.2 648.0 412.0" fill="none" stroke="#f2f2f2" stroke-width="2.4" stroke-linejoin="round" stroke-linecap="round" opacity="1" filter="url(#b2)"/>
<path d="M624 322 C625.0 325.8 627.2 337.3 630.0 345.0 C632.8 352.7 639.2 364.2 641.0 368.0" transform="translate(1.6,1.8)" fill="none" stroke="#5a5a5a" stroke-width="2.0" stroke-linejoin="round" stroke-linecap="round" opacity="0.35" filter="url(#b4)"/>
<path d="M624 322 C625.0 325.8 627.2 337.3 630.0 345.0 C632.8 352.7 639.2 364.2 641.0 368.0" fill="none" stroke="#dedede" stroke-width="6" stroke-linejoin="round" stroke-linecap="round" opacity="0.62" filter="url(#b4)"/>
<path d="M624 322 C625.0 325.8 627.2 337.3 630.0 345.0 C632.8 352.7 639.2 364.2 641.0 368.0" fill="none" stroke="#f2f2f2" stroke-width="1.6" stroke-linejoin="round" stroke-linecap="round" opacity="1" filter="url(#b2)"/>
<path d="M606 416 C610.0 418.3 622.7 425.2 630.0 430.0 C637.3 434.8 644.5 440.5 650.0 445.0 C655.5 449.5 660.8 455.0 663.0 457.0" transform="translate(1.6,1.8)" fill="none" stroke="#5a5a5a" stroke-width="2.9" stroke-linejoin="round" stroke-linecap="round" opacity="0.35" filter="url(#b4)"/>
<path d="M606 416 C610.0 418.3 622.7 425.2 630.0 430.0 C637.3 434.8 644.5 440.5 650.0 445.0 C655.5 449.5 660.8 455.0 663.0 457.0" fill="none" stroke="#dedede" stroke-width="7" stroke-linejoin="round" stroke-linecap="round" opacity="0.62" filter="url(#b4)"/>
<path d="M606 416 C610.0 418.3 622.7 425.2 630.0 430.0 C637.3 434.8 644.5 440.5 650.0 445.0 C655.5 449.5 660.8 455.0 663.0 457.0" fill="none" stroke="#f2f2f2" stroke-width="2.6" stroke-linejoin="round" stroke-linecap="round" opacity="1" filter="url(#b2)"/>
<path d="M640.5 412.5 C646.7 413.3 665.2 414.8 677.5 417.1 C689.8 419.4 702.2 423.3 714.5 426.4 C726.8 429.5 742.2 431.8 751.5 435.6 C760.8 439.5 766.9 447.2 770.0 449.5" transform="translate(1.6,1.8)" fill="none" stroke="#5a5a5a" stroke-width="2.9" stroke-linejoin="round" stroke-linecap="round" opacity="0.35" filter="url(#b4)"/>
<path d="M640.5 412.5 C646.7 413.3 665.2 414.8 677.5 417.1 C689.8 419.4 702.2 423.3 714.5 426.4 C726.8 429.5 742.2 431.8 751.5 435.6 C760.8 439.5 766.9 447.2 770.0 449.5" fill="none" stroke="#dedede" stroke-width="7" stroke-linejoin="round" stroke-linecap="round" opacity="0.62" filter="url(#b4)"/>
<path d="M640.5 412.5 C646.7 413.3 665.2 414.8 677.5 417.1 C689.8 419.4 702.2 423.3 714.5 426.4 C726.8 429.5 742.2 431.8 751.5 435.6 C760.8 439.5 766.9 447.2 770.0 449.5" fill="none" stroke="#f2f2f2" stroke-width="2.6" stroke-linejoin="round" stroke-linecap="round" opacity="1" filter="url(#b2)"/>
<path d="M723.8 450.4 C725.3 454.1 728.4 463.5 733.0 472.6 C737.6 481.7 745.3 496.5 751.5 505.0 C757.7 513.5 766.9 520.4 770.0 523.5" transform="translate(1.6,1.8)" fill="none" stroke="#5a5a5a" stroke-width="2.4" stroke-linejoin="round" stroke-linecap="round" opacity="0.35" filter="url(#b4)"/>
<path d="M723.8 450.4 C725.3 454.1 728.4 463.5 733.0 472.6 C737.6 481.7 745.3 496.5 751.5 505.0 C757.7 513.5 766.9 520.4 770.0 523.5" fill="none" stroke="#dedede" stroke-width="4" stroke-linejoin="round" stroke-linecap="round" opacity="0.62" filter="url(#b4)"/>
<path d="M723.8 450.4 C725.3 454.1 728.4 463.5 733.0 472.6 C737.6 481.7 745.3 496.5 751.5 505.0 C757.7 513.5 766.9 520.4 770.0 523.5" fill="none" stroke="#f2f2f2" stroke-width="2" stroke-linejoin="round" stroke-linecap="round" opacity="1" filter="url(#b2)"/>
<path d="M400.0 467.1 C407.7 466.8 430.9 465.3 446.3 465.2 C461.7 465.1 477.1 466.8 492.5 466.6 C507.9 466.4 523.4 463.6 538.8 463.8 C554.2 464.0 571.1 466.5 585.0 468.0 C598.9 469.5 610.8 470.7 622.0 472.6 C633.2 474.5 647.1 478.4 652.1 479.6" transform="translate(1.6,1.8)" fill="none" stroke="#5a5a5a" stroke-width="3.8" stroke-linejoin="round" stroke-linecap="round" opacity="0.35" filter="url(#b4)"/>
<path d="M400.0 467.1 C407.7 466.8 430.9 465.3 446.3 465.2 C461.7 465.1 477.1 466.8 492.5 466.6 C507.9 466.4 523.4 463.6 538.8 463.8 C554.2 464.0 571.1 466.5 585.0 468.0 C598.9 469.5 610.8 470.7 622.0 472.6 C633.2 474.5 647.1 478.4 652.1 479.6" fill="none" stroke="#dedede" stroke-width="10" stroke-linejoin="round" stroke-linecap="round" opacity="0.62" filter="url(#b4)"/>
<path d="M400.0 467.1 C407.7 466.8 430.9 465.3 446.3 465.2 C461.7 465.1 477.1 466.8 492.5 466.6 C507.9 466.4 523.4 463.6 538.8 463.8 C554.2 464.0 571.1 466.5 585.0 468.0 C598.9 469.5 610.8 470.7 622.0 472.6 C633.2 474.5 647.1 478.4 652.1 479.6" fill="none" stroke="#f2f2f2" stroke-width="3.6" stroke-linejoin="round" stroke-linecap="round" opacity="1" filter="url(#b2)"/>
<path d="M400 500 C405.0 502.0 420.1 508.1 430.0 512.0 C439.9 515.9 449.9 523.0 459.6 523.4 C469.3 523.8 480.3 517.9 488.0 514.6 C495.7 511.3 500.2 507.4 506.0 503.6 C511.8 499.8 517.2 493.3 523.0 492.0 C528.8 490.7 533.7 496.7 541.0 496.0 C548.3 495.3 557.8 490.1 567.0 488.0 C576.2 485.9 582.8 484.4 596.0 483.7 C609.2 483.0 637.7 483.7 646.0 483.7" transform="translate(1.6,1.8)" fill="none" stroke="#5a5a5a" stroke-width="2.6" stroke-linejoin="round" stroke-linecap="round" opacity="0.35" filter="url(#b4)"/>
<path d="M400 500 C405.0 502.0 420.1 508.1 430.0 512.0 C439.9 515.9 449.9 523.0 459.6 523.4 C469.3 523.8 480.3 517.9 488.0 514.6 C495.7 511.3 500.2 507.4 506.0 503.6 C511.8 499.8 517.2 493.3 523.0 492.0 C528.8 490.7 533.7 496.7 541.0 496.0 C548.3 495.3 557.8 490.1 567.0 488.0 C576.2 485.9 582.8 484.4 596.0 483.7 C609.2 483.0 637.7 483.7 646.0 483.7" fill="none" stroke="#dedede" stroke-width="6" stroke-linejoin="round" stroke-linecap="round" opacity="0.62" filter="url(#b4)"/>
<path d="M400 500 C405.0 502.0 420.1 508.1 430.0 512.0 C439.9 515.9 449.9 523.0 459.6 523.4 C469.3 523.8 480.3 517.9 488.0 514.6 C495.7 511.3 500.2 507.4 506.0 503.6 C511.8 499.8 517.2 493.3 523.0 492.0 C528.8 490.7 533.7 496.7 541.0 496.0 C548.3 495.3 557.8 490.1 567.0 488.0 C576.2 485.9 582.8 484.4 596.0 483.7 C609.2 483.0 637.7 483.7 646.0 483.7" fill="none" stroke="#f2f2f2" stroke-width="2.2" stroke-linejoin="round" stroke-linecap="round" opacity="1" filter="url(#b2)"/>
<path d="M672.9 458.8 C670.6 462.6 662.9 474.2 659.0 481.9 C655.1 489.6 652.9 497.3 649.8 505.0 C646.7 512.7 643.2 518.9 640.5 528.1 C637.8 537.4 635.1 550.2 633.6 560.5 C632.1 570.8 631.7 585.2 631.3 590.1" transform="translate(1.6,1.8)" fill="none" stroke="#5a5a5a" stroke-width="2.9" stroke-linejoin="round" stroke-linecap="round" opacity="0.35" filter="url(#b4)"/>
<path d="M672.9 458.8 C670.6 462.6 662.9 474.2 659.0 481.9 C655.1 489.6 652.9 497.3 649.8 505.0 C646.7 512.7 643.2 518.9 640.5 528.1 C637.8 537.4 635.1 550.2 633.6 560.5 C632.1 570.8 631.7 585.2 631.3 590.1" fill="none" stroke="#dedede" stroke-width="8" stroke-linejoin="round" stroke-linecap="round" opacity="0.62" filter="url(#b4)"/>
<path d="M672.9 458.8 C670.6 462.6 662.9 474.2 659.0 481.9 C655.1 489.6 652.9 497.3 649.8 505.0 C646.7 512.7 643.2 518.9 640.5 528.1 C637.8 537.4 635.1 550.2 633.6 560.5 C632.1 570.8 631.7 585.2 631.3 590.1" fill="none" stroke="#f2f2f2" stroke-width="2.6" stroke-linejoin="round" stroke-linecap="round" opacity="1" filter="url(#b2)"/>
<path d="M459.6 523.4 C459.8 528.7 460.9 543.9 461.0 555.0 C461.1 566.1 460.2 584.2 460.0 590.0" transform="translate(1.6,1.8)" fill="none" stroke="#5a5a5a" stroke-width="1.9" stroke-linejoin="round" stroke-linecap="round" opacity="0.35" filter="url(#b4)"/>
<path d="M459.6 523.4 C459.8 528.7 460.9 543.9 461.0 555.0 C461.1 566.1 460.2 584.2 460.0 590.0" fill="none" stroke="#dedede" stroke-width="3" stroke-linejoin="round" stroke-linecap="round" opacity="0.62" filter="url(#b4)"/>
<path d="M459.6 523.4 C459.8 528.7 460.9 543.9 461.0 555.0 C461.1 566.1 460.2 584.2 460.0 590.0" fill="none" stroke="#f2f2f2" stroke-width="1.4" stroke-linejoin="round" stroke-linecap="round" opacity="1" filter="url(#b2)"/>
<path d="M523 492 C523.7 500.0 526.7 523.7 527.0 540.0 C527.3 556.3 525.3 581.7 525.0 590.0" transform="translate(1.6,1.8)" fill="none" stroke="#5a5a5a" stroke-width="1.7" stroke-linejoin="round" stroke-linecap="round" opacity="0.35" filter="url(#b4)"/>
<path d="M523 492 C523.7 500.0 526.7 523.7 527.0 540.0 C527.3 556.3 525.3 581.7 525.0 590.0" fill="none" stroke="#dedede" stroke-width="3" stroke-linejoin="round" stroke-linecap="round" opacity="0.62" filter="url(#b4)"/>
<path d="M523 492 C523.7 500.0 526.7 523.7 527.0 540.0 C527.3 556.3 525.3 581.7 525.0 590.0" fill="none" stroke="#f2f2f2" stroke-width="1.2" stroke-linejoin="round" stroke-linecap="round" opacity="1" filter="url(#b2)"/>
<path d="M659.0 450.4 C663.6 449.5 676.0 444.9 686.8 444.9 C697.6 444.9 717.6 449.5 723.8 450.4" transform="translate(1.6,1.8)" fill="none" stroke="#5a5a5a" stroke-width="2.8" stroke-linejoin="round" stroke-linecap="round" opacity="0.35" filter="url(#b4)"/>
<path d="M659.0 450.4 C663.6 449.5 676.0 444.9 686.8 444.9 C697.6 444.9 717.6 449.5 723.8 450.4" fill="none" stroke="#dedede" stroke-width="8" stroke-linejoin="round" stroke-linecap="round" opacity="0.62" filter="url(#b4)"/>
<path d="M659.0 450.4 C663.6 449.5 676.0 444.9 686.8 444.9 C697.6 444.9 717.6 449.5 723.8 450.4" fill="none" stroke="#f2f2f2" stroke-width="2.4" stroke-linejoin="round" stroke-linecap="round" opacity="1" filter="url(#b2)"/>
<path d="M552.6 435.6 C556.5 434.5 568.8 429.1 575.8 428.7 C582.8 428.3 591.2 432.5 594.3 433.3" transform="translate(1.6,1.8)" fill="none" stroke="#5a5a5a" stroke-width="1.9" stroke-linejoin="round" stroke-linecap="round" opacity="0.35" filter="url(#b4)"/>
<path d="M552.6 435.6 C556.5 434.5 568.8 429.1 575.8 428.7 C582.8 428.3 591.2 432.5 594.3 433.3" fill="none" stroke="#dedede" stroke-width="3" stroke-linejoin="round" stroke-linecap="round" opacity="0.62" filter="url(#b4)"/>
<path d="M552.6 435.6 C556.5 434.5 568.8 429.1 575.8 428.7 C582.8 428.3 591.2 432.5 594.3 433.3" fill="none" stroke="#f2f2f2" stroke-width="1.4" stroke-linejoin="round" stroke-linecap="round" opacity="1" filter="url(#b2)"/>
<path d="M409.3 551.3 C412.4 552.8 422.4 555.9 427.8 560.5 C433.2 565.1 439.3 575.9 441.6 579.0" transform="translate(1.6,1.8)" fill="none" stroke="#5a5a5a" stroke-width="1.8" stroke-linejoin="round" stroke-linecap="round" opacity="0.35" filter="url(#b4)"/>
<path d="M409.3 551.3 C412.4 552.8 422.4 555.9 427.8 560.5 C433.2 565.1 439.3 575.9 441.6 579.0" fill="none" stroke="#dedede" stroke-width="3" stroke-linejoin="round" stroke-linecap="round" opacity="0.62" filter="url(#b4)"/>
<path d="M409.3 551.3 C412.4 552.8 422.4 555.9 427.8 560.5 C433.2 565.1 439.3 575.9 441.6 579.0" fill="none" stroke="#f2f2f2" stroke-width="1.3" stroke-linejoin="round" stroke-linecap="round" opacity="1" filter="url(#b2)"/>
<path d="M483.3 537.4 C484.8 541.2 491.7 551.7 492.5 560.5 C493.3 569.3 488.7 585.2 487.9 590.1" transform="translate(1.6,1.8)" fill="none" stroke="#5a5a5a" stroke-width="1.7" stroke-linejoin="round" stroke-linecap="round" opacity="0.35" filter="url(#b4)"/>
<path d="M483.3 537.4 C484.8 541.2 491.7 551.7 492.5 560.5 C493.3 569.3 488.7 585.2 487.9 590.1" fill="none" stroke="#dedede" stroke-width="3" stroke-linejoin="round" stroke-linecap="round" opacity="0.62" filter="url(#b4)"/>
<path d="M483.3 537.4 C484.8 541.2 491.7 551.7 492.5 560.5 C493.3 569.3 488.7 585.2 487.9 590.1" fill="none" stroke="#f2f2f2" stroke-width="1.2" stroke-linejoin="round" stroke-linecap="round" opacity="1" filter="url(#b2)"/>
<path d="M700.6 505.0 C703.7 507.3 713.7 512.7 719.1 518.9 C724.5 525.1 730.7 538.1 733.0 542.0" transform="translate(1.6,1.8)" fill="none" stroke="#5a5a5a" stroke-width="1.7" stroke-linejoin="round" stroke-linecap="round" opacity="0.35" filter="url(#b4)"/>
<path d="M700.6 505.0 C703.7 507.3 713.7 512.7 719.1 518.9 C724.5 525.1 730.7 538.1 733.0 542.0" fill="none" stroke="#dedede" stroke-width="3" stroke-linejoin="round" stroke-linecap="round" opacity="0.62" filter="url(#b4)"/>
<path d="M700.6 505.0 C703.7 507.3 713.7 512.7 719.1 518.9 C724.5 525.1 730.7 538.1 733.0 542.0" fill="none" stroke="#f2f2f2" stroke-width="1.2" stroke-linejoin="round" stroke-linecap="round" opacity="1" filter="url(#b2)"/>
<path d="M585.0 523.5 C587.3 525.8 595.8 531.2 598.9 537.4 C602.0 543.6 602.7 556.6 603.5 560.5" transform="translate(1.6,1.8)" fill="none" stroke="#5a5a5a" stroke-width="1.7" stroke-linejoin="round" stroke-linecap="round" opacity="0.35" filter="url(#b4)"/>
<path d="M585.0 523.5 C587.3 525.8 595.8 531.2 598.9 537.4 C602.0 543.6 602.7 556.6 603.5 560.5" fill="none" stroke="#dedede" stroke-width="3" stroke-linejoin="round" stroke-linecap="round" opacity="0.62" filter="url(#b4)"/>
<path d="M585.0 523.5 C587.3 525.8 595.8 531.2 598.9 537.4 C602.0 543.6 602.7 556.6 603.5 560.5" fill="none" stroke="#f2f2f2" stroke-width="1.2" stroke-linejoin="round" stroke-linecap="round" opacity="1" filter="url(#b2)"/>
<path d="M628.9 333.0 q1.0 -4.0 1.8 -6.8" fill="none" stroke="#f2f2f2" stroke-width="1.5" stroke-linecap="round" opacity="0.53" filter="url(#b2)"/>
<path d="M637.3 324.7 q-2.0 -3.7 -0.8 -6.9" fill="none" stroke="#f2f2f2" stroke-width="1.5" stroke-linecap="round" opacity="0.87" filter="url(#b2)"/>
<path d="M619.7 338.3 q1.1 3.2 1.5 7.2" fill="none" stroke="#f2f2f2" stroke-width="1.5" stroke-linecap="round" opacity="0.94" filter="url(#b2)"/>
<path d="M616.1 384.7 q-2.8 -3.6 -2.5 -5.7" fill="none" stroke="#f2f2f2" stroke-width="1.5" stroke-linecap="round" opacity="0.87" filter="url(#b2)"/>
<path d="M622.3 364.5 q1.0 -2.8 1.7 -2.0" fill="none" stroke="#f2f2f2" stroke-width="1.5" stroke-linecap="round" opacity="0.53" filter="url(#b2)"/>
<path d="M623.5 371.7 q-0.1 -1.7 -0.9 -3.0" fill="none" stroke="#f2f2f2" stroke-width="1.5" stroke-linecap="round" opacity="0.63" filter="url(#b2)"/>
<path d="M650.5 373.0 q-1.4 2.1 -3.1 1.2" fill="none" stroke="#f2f2f2" stroke-width="1.5" stroke-linecap="round" opacity="0.83" filter="url(#b2)"/>
<path d="M627.2 393.6 q-1.3 -2.0 -4.6 -1.3" fill="none" stroke="#f2f2f2" stroke-width="1.5" stroke-linecap="round" opacity="0.72" filter="url(#b2)"/>
<path d="M615.8 370.8 q3.1 -0.2 3.2 1.2" fill="none" stroke="#f2f2f2" stroke-width="1.5" stroke-linecap="round" opacity="0.81" filter="url(#b2)"/>
<path d="M641.3 364.3 q1.5 2.6 -0.5 5.4" fill="none" stroke="#f2f2f2" stroke-width="1.5" stroke-linecap="round" opacity="0.80" filter="url(#b2)"/>
<path d="M616.8 373.2 q2.2 3.1 1.8 7.9" fill="none" stroke="#f2f2f2" stroke-width="1.5" stroke-linecap="round" opacity="0.67" filter="url(#b2)"/>
<path d="M644.8 323.6 q-1.8 -4.4 -0.5 -5.3" fill="none" stroke="#f2f2f2" stroke-width="1.5" stroke-linecap="round" opacity="0.85" filter="url(#b2)"/>
<path d="M619.9 340.1 q-2.3 2.8 -1.3 5.9" fill="none" stroke="#f2f2f2" stroke-width="1.5" stroke-linecap="round" opacity="0.75" filter="url(#b2)"/>
<path d="M654.6 381.8 q1.8 -2.3 4.4 -3.5" fill="none" stroke="#f2f2f2" stroke-width="1.5" stroke-linecap="round" opacity="0.90" filter="url(#b2)"/>
<path d="M658.1 333.0 q-3.0 -2.2 -3.9 -4.3" fill="none" stroke="#f2f2f2" stroke-width="1.5" stroke-linecap="round" opacity="0.77" filter="url(#b2)"/>
<path d="M626.1 322.3 q-0.2 0.8 -1.0 -2.1" fill="none" stroke="#f2f2f2" stroke-width="1.5" stroke-linecap="round" opacity="0.81" filter="url(#b2)"/>
<path d="M637.7 367.1 q2.7 -2.4 2.1 -7.1" fill="none" stroke="#f2f2f2" stroke-width="1.5" stroke-linecap="round" opacity="0.89" filter="url(#b2)"/>
<path d="M650.7 350.6 q-0.1 -4.9 -1.2 -6.3" fill="none" stroke="#f2f2f2" stroke-width="1.5" stroke-linecap="round" opacity="0.53" filter="url(#b2)"/>
<path d="M623.6 333.8 q-3.0 -5.0 -1.9 -7.2" fill="none" stroke="#f2f2f2" stroke-width="1.5" stroke-linecap="round" opacity="0.55" filter="url(#b2)"/>
<path d="M630.7 323.9 q0.8 -0.1 4.5 1.8" fill="none" stroke="#f2f2f2" stroke-width="1.5" stroke-linecap="round" opacity="0.66" filter="url(#b2)"/>
<path d="M630.8 331.0 q2.0 3.9 4.2 7.9" fill="none" stroke="#f2f2f2" stroke-width="1.5" stroke-linecap="round" opacity="0.54" filter="url(#b2)"/>
<path d="M618.7 347.0 q-2.8 0.7 -2.8 5.3" fill="none" stroke="#f2f2f2" stroke-width="1.5" stroke-linecap="round" opacity="0.93" filter="url(#b2)"/>
<path d="M638.3 332.7 q0.4 -1.9 0.5 -7.6" fill="none" stroke="#f2f2f2" stroke-width="1.5" stroke-linecap="round" opacity="0.89" filter="url(#b2)"/>
<path d="M646.0 341.1 q0.3 -2.5 -1.6 -5.3" fill="none" stroke="#f2f2f2" stroke-width="1.5" stroke-linecap="round" opacity="0.85" filter="url(#b2)"/>
<path d="M629.2 338.3 q3.3 5.1 3.7 7.8" fill="none" stroke="#f2f2f2" stroke-width="1.5" stroke-linecap="round" opacity="0.87" filter="url(#b2)"/>
<path d="M648.0 338.6 q-1.8 -3.0 0.2 -2.3" fill="none" stroke="#f2f2f2" stroke-width="1.5" stroke-linecap="round" opacity="0.63" filter="url(#b2)"/>
<path d="M625.9 372.6 q4.5 1.5 5.5 -0.8" fill="none" stroke="#f2f2f2" stroke-width="1.5" stroke-linecap="round" opacity="0.93" filter="url(#b2)"/>
<path d="M630.8 338.1 q-2.8 -1.9 -3.3 -4.9" fill="none" stroke="#f2f2f2" stroke-width="1.5" stroke-linecap="round" opacity="0.91" filter="url(#b2)"/>
<path d="M652.7 357.0 q-0.7 3.0 1.8 4.8" fill="none" stroke="#f2f2f2" stroke-width="1.5" stroke-linecap="round" opacity="0.91" filter="url(#b2)"/>
<path d="M650.0 376.8 q1.0 -3.2 -0.3 -5.1" fill="none" stroke="#f2f2f2" stroke-width="1.5" stroke-linecap="round" opacity="0.86" filter="url(#b2)"/>
<path d="M658.7 350.9 q0.3 2.3 -1.2 7.1" fill="none" stroke="#f2f2f2" stroke-width="1.5" stroke-linecap="round" opacity="0.56" filter="url(#b2)"/>
<path d="M621.0 388.1 q3.1 -0.9 3.7 -5.7" fill="none" stroke="#f2f2f2" stroke-width="1.5" stroke-linecap="round" opacity="0.80" filter="url(#b2)"/>
<path d="M630.1 362.1 q-0.3 -3.3 -4.4 -7.8" fill="none" stroke="#f2f2f2" stroke-width="1.5" stroke-linecap="round" opacity="0.74" filter="url(#b2)"/>
<path d="M656.9 353.7 q1.1 1.6 4.5 5.2" fill="none" stroke="#f2f2f2" stroke-width="1.5" stroke-linecap="round" opacity="0.63" filter="url(#b2)"/>
<path d="M625.1 364.8 q-2.9 1.0 -2.9 -1.3" fill="none" stroke="#f2f2f2" stroke-width="1.5" stroke-linecap="round" opacity="0.66" filter="url(#b2)"/>
<path d="M635.1 364.6 q4.1 -0.6 4.9 -1.3" fill="none" stroke="#f2f2f2" stroke-width="1.5" stroke-linecap="round" opacity="0.74" filter="url(#b2)"/>
<path d="M638.1 323.4 q-2.3 -1.3 -0.7 -5.1" fill="none" stroke="#f2f2f2" stroke-width="1.5" stroke-linecap="round" opacity="0.58" filter="url(#b2)"/>
<path d="M635.8 374.9 q0.4 -1.2 0.7 -2.8" fill="none" stroke="#f2f2f2" stroke-width="1.5" stroke-linecap="round" opacity="0.85" filter="url(#b2)"/>
<path d="M618.9 362.9 q-0.4 -1.8 -3.0 -3.6" fill="none" stroke="#f2f2f2" stroke-width="1.5" stroke-linecap="round" opacity="0.75" filter="url(#b2)"/>
<path d="M649.0 388.6 q-0.3 0.9 -0.7 1.8" fill="none" stroke="#f2f2f2" stroke-width="1.5" stroke-linecap="round" opacity="0.81" filter="url(#b2)"/>
<path d="M634.8 360.9 q0.7 5.0 -0.3 7.1" fill="none" stroke="#f2f2f2" stroke-width="1.5" stroke-linecap="round" opacity="0.92" filter="url(#b2)"/>
<path d="M625.9 362.8 q1.2 1.2 5.3 5.4" fill="none" stroke="#f2f2f2" stroke-width="1.5" stroke-linecap="round" opacity="0.70" filter="url(#b2)"/>
<path d="M617.3 339.6 q-1.4 2.9 -5.1 2.7" fill="none" stroke="#f2f2f2" stroke-width="1.5" stroke-linecap="round" opacity="0.57" filter="url(#b2)"/>
<path d="M646.9 370.2 q-0.3 1.9 -4.3 6.1" fill="none" stroke="#f2f2f2" stroke-width="1.5" stroke-linecap="round" opacity="0.93" filter="url(#b2)"/>
<path d="M632.3 357.6 q1.6 2.4 5.9 5.3" fill="none" stroke="#f2f2f2" stroke-width="1.5" stroke-linecap="round" opacity="0.73" filter="url(#b2)"/>
<path d="M619.2 399.5 q-3.0 2.0 -2.2 3.6" fill="none" stroke="#f2f2f2" stroke-width="1.5" stroke-linecap="round" opacity="0.70" filter="url(#b2)"/>
<path d="M606.7 402.6 q-1.0 2.0 1.5 0.2" fill="none" stroke="#f2f2f2" stroke-width="1.5" stroke-linecap="round" opacity="0.85" filter="url(#b2)"/>
<path d="M643.9 397.4 q-0.3 -4.6 -2.8 -7.4" fill="none" stroke="#f2f2f2" stroke-width="1.5" stroke-linecap="round" opacity="0.56" filter="url(#b2)"/>
<path d="M622.5 416.0 q0.5 -0.3 3.8 -3.9" fill="none" stroke="#f2f2f2" stroke-width="1.5" stroke-linecap="round" opacity="0.76" filter="url(#b2)"/>
<path d="M633.3 397.1 q-3.0 -0.2 -5.3 3.0" fill="none" stroke="#f2f2f2" stroke-width="1.5" stroke-linecap="round" opacity="0.92" filter="url(#b2)"/>
<path d="M630.7 413.4 q-4.2 4.3 -5.0 5.7" fill="none" stroke="#f2f2f2" stroke-width="1.5" stroke-linecap="round" opacity="0.70" filter="url(#b2)"/>
<path d="M619.2 407.7 q1.1 -1.7 5.1 -3.7" fill="none" stroke="#f2f2f2" stroke-width="1.5" stroke-linecap="round" opacity="0.61" filter="url(#b2)"/>
<path d="M610.3 398.7 q-3.4 -3.2 -5.4 -4.8" fill="none" stroke="#f2f2f2" stroke-width="1.5" stroke-linecap="round" opacity="0.84" filter="url(#b2)"/>
<path d="M617.3 406.5 q-3.9 -2.2 -3.9 -2.4" fill="none" stroke="#f2f2f2" stroke-width="1.5" stroke-linecap="round" opacity="0.51" filter="url(#b2)"/>
<path d="M634.6 407.7 q-0.1 -1.8 -3.7 -0.4" fill="none" stroke="#f2f2f2" stroke-width="1.5" stroke-linecap="round" opacity="0.87" filter="url(#b2)"/>
<path d="M693.9 462.4 q2.0 -0.1 4.0 -1.7" fill="none" stroke="#f2f2f2" stroke-width="1.3" stroke-linecap="round" opacity="0.94" filter="url(#b2)"/>
<path d="M685.8 467.5 q0.9 0.5 2.5 2.2" fill="none" stroke="#f2f2f2" stroke-width="1.3" stroke-linecap="round" opacity="0.52" filter="url(#b2)"/>
<path d="M666.7 456.1 q0.1 -3.6 2.9 -3.9" fill="none" stroke="#f2f2f2" stroke-width="1.3" stroke-linecap="round" opacity="0.88" filter="url(#b2)"/>
<path d="M733.3 465.1 q-2.1 -2.2 -2.6 -4.1" fill="none" stroke="#f2f2f2" stroke-width="1.3" stroke-linecap="round" opacity="0.57" filter="url(#b2)"/>
<path d="M695.1 458.9 q3.0 2.8 5.5 7.6" fill="none" stroke="#f2f2f2" stroke-width="1.3" stroke-linecap="round" opacity="0.93" filter="url(#b2)"/>
<path d="M682.9 460.3 q-3.1 -0.9 -6.0 -1.9" fill="none" stroke="#f2f2f2" stroke-width="1.3" stroke-linecap="round" opacity="0.59" filter="url(#b2)"/>
<path d="M700.4 455.1 q-1.8 -5.1 -2.8 -6.6" fill="none" stroke="#f2f2f2" stroke-width="1.3" stroke-linecap="round" opacity="0.51" filter="url(#b2)"/>
<path d="M682.4 458.5 q1.5 0.9 1.0 0.5" fill="none" stroke="#f2f2f2" stroke-width="1.3" stroke-linecap="round" opacity="0.82" filter="url(#b2)"/>
<path d="M734.1 460.8 q-2.4 4.8 -2.1 7.8" fill="none" stroke="#f2f2f2" stroke-width="1.3" stroke-linecap="round" opacity="0.79" filter="url(#b2)"/>
<path d="M658.9 467.5 q3.3 2.3 4.7 2.0" fill="none" stroke="#f2f2f2" stroke-width="1.3" stroke-linecap="round" opacity="0.56" filter="url(#b2)"/>
<path d="M702.1 462.6 q3.3 2.8 4.0 4.9" fill="none" stroke="#f2f2f2" stroke-width="1.3" stroke-linecap="round" opacity="0.90" filter="url(#b2)"/>
<path d="M716.5 465.4 q-3.1 -4.3 -3.2 -7.5" fill="none" stroke="#f2f2f2" stroke-width="1.3" stroke-linecap="round" opacity="0.55" filter="url(#b2)"/>
<path d="M730.2 463.4 q1.5 1.0 1.5 2.0" fill="none" stroke="#f2f2f2" stroke-width="1.3" stroke-linecap="round" opacity="0.50" filter="url(#b2)"/>
<path d="M726.8 466.2 q0.7 -1.5 0.0 0.6" fill="none" stroke="#f2f2f2" stroke-width="1.3" stroke-linecap="round" opacity="0.83" filter="url(#b2)"/>
<path d="M677.7 456.1 q-2.6 2.8 -2.8 3.7" fill="none" stroke="#f2f2f2" stroke-width="1.3" stroke-linecap="round" opacity="0.94" filter="url(#b2)"/>
<path d="M699.5 460.7 q0.9 1.9 -0.3 2.9" fill="none" stroke="#f2f2f2" stroke-width="1.3" stroke-linecap="round" opacity="0.79" filter="url(#b2)"/>
<path d="M662.0 457.2 q-2.3 2.2 -3.0 3.9" fill="none" stroke="#f2f2f2" stroke-width="1.3" stroke-linecap="round" opacity="0.51" filter="url(#b2)"/>
<path d="M660.5 459.0 q1.7 0.7 2.1 3.1" fill="none" stroke="#f2f2f2" stroke-width="1.3" stroke-linecap="round" opacity="0.73" filter="url(#b2)"/>
<path d="M696.8 462.0 q-3.5 5.1 -4.6 6.3" fill="none" stroke="#f2f2f2" stroke-width="1.3" stroke-linecap="round" opacity="0.92" filter="url(#b2)"/>
<path d="M656.6 461.9 q1.7 2.8 3.8 7.5" fill="none" stroke="#f2f2f2" stroke-width="1.3" stroke-linecap="round" opacity="0.59" filter="url(#b2)"/>
<path d="M666.5 480.5 q0.6 -1.1 1.0 -5.7" fill="none" stroke="#f2f2f2" stroke-width="1.3" stroke-linecap="round" opacity="0.56" filter="url(#b2)"/>
<path d="M663.0 495.4 q1.2 3.2 4.6 3.3" fill="none" stroke="#f2f2f2" stroke-width="1.3" stroke-linecap="round" opacity="0.72" filter="url(#b2)"/>
<path d="M640.7 470.2 q-0.8 -1.8 -0.1 -0.8" fill="none" stroke="#f2f2f2" stroke-width="1.3" stroke-linecap="round" opacity="0.65" filter="url(#b2)"/>
<path d="M648.9 512.0 q-1.6 0.5 -6.0 4.0" fill="none" stroke="#f2f2f2" stroke-width="1.3" stroke-linecap="round" opacity="0.92" filter="url(#b2)"/>
<path d="M660.0 515.1 q-1.7 1.0 -2.5 -2.0" fill="none" stroke="#f2f2f2" stroke-width="1.3" stroke-linecap="round" opacity="0.77" filter="url(#b2)"/>
<path d="M650.1 491.4 q-2.9 -2.3 -2.7 -7.2" fill="none" stroke="#f2f2f2" stroke-width="1.3" stroke-linecap="round" opacity="0.63" filter="url(#b2)"/>
<path d="M666.2 482.5 q-2.6 -0.4 -2.8 0.2" fill="none" stroke="#f2f2f2" stroke-width="1.3" stroke-linecap="round" opacity="0.93" filter="url(#b2)"/>
<path d="M664.8 510.6 q2.5 3.5 1.6 6.6" fill="none" stroke="#f2f2f2" stroke-width="1.3" stroke-linecap="round" opacity="0.82" filter="url(#b2)"/>
<path d="M641.4 506.6 q0.3 1.2 -0.6 4.0" fill="none" stroke="#f2f2f2" stroke-width="1.3" stroke-linecap="round" opacity="0.52" filter="url(#b2)"/>
<path d="M665.9 476.4 q-1.0 -0.3 -0.3 -2.5" fill="none" stroke="#f2f2f2" stroke-width="1.3" stroke-linecap="round" opacity="0.94" filter="url(#b2)"/>
<path d="M647.3 502.8 q-1.6 -0.9 -2.4 0.9" fill="none" stroke="#f2f2f2" stroke-width="1.3" stroke-linecap="round" opacity="0.57" filter="url(#b2)"/>
<path d="M645.8 515.3 q1.6 -0.3 -0.0 -4.5" fill="none" stroke="#f2f2f2" stroke-width="1.3" stroke-linecap="round" opacity="0.70" filter="url(#b2)"/>
<path d="M658.0 416.7 q-4.1 -2.3 -4.9 -2.5" fill="none" stroke="#f2f2f2" stroke-width="1.2" stroke-linecap="round" opacity="0.62" filter="url(#b2)"/>
<path d="M713.5 441.1 q1.2 -0.6 3.0 -1.4" fill="none" stroke="#f2f2f2" stroke-width="1.2" stroke-linecap="round" opacity="0.67" filter="url(#b2)"/>
<path d="M683.6 412.2 q-2.8 3.8 -2.7 7.5" fill="none" stroke="#f2f2f2" stroke-width="1.2" stroke-linecap="round" opacity="0.78" filter="url(#b2)"/>
<path d="M751.3 417.6 q-1.8 -2.2 -2.7 -4.0" fill="none" stroke="#f2f2f2" stroke-width="1.2" stroke-linecap="round" opacity="0.93" filter="url(#b2)"/>
<path d="M749.5 440.6 q-2.0 -2.2 -5.7 -7.5" fill="none" stroke="#f2f2f2" stroke-width="1.2" stroke-linecap="round" opacity="0.71" filter="url(#b2)"/>
<path d="M715.7 410.0 q0.7 4.8 -1.3 6.8" fill="none" stroke="#f2f2f2" stroke-width="1.2" stroke-linecap="round" opacity="0.94" filter="url(#b2)"/>
<path d="M672.1 413.8 q-1.3 1.9 -4.1 0.4" fill="none" stroke="#f2f2f2" stroke-width="1.2" stroke-linecap="round" opacity="0.82" filter="url(#b2)"/>
<path d="M723.5 436.8 q-2.1 1.5 -0.5 0.8" fill="none" stroke="#f2f2f2" stroke-width="1.2" stroke-linecap="round" opacity="0.60" filter="url(#b2)"/>
<path d="M758.7 432.6 q-2.2 -2.4 -2.4 -6.0" fill="none" stroke="#f2f2f2" stroke-width="1.2" stroke-linecap="round" opacity="0.81" filter="url(#b2)"/>
<path d="M654.5 412.5 q-0.3 -0.4 0.3 1.3" fill="none" stroke="#f2f2f2" stroke-width="1.2" stroke-linecap="round" opacity="0.77" filter="url(#b2)"/>
<path d="M641.3 420.6 q0.3 5.2 -0.5 7.3" fill="none" stroke="#f2f2f2" stroke-width="1.2" stroke-linecap="round" opacity="0.71" filter="url(#b2)"/>
<path d="M670.3 418.6 q2.0 -0.3 5.5 3.3" fill="none" stroke="#f2f2f2" stroke-width="1.2" stroke-linecap="round" opacity="0.72" filter="url(#b2)"/>
<path d="M727.0 424.7 q0.2 0.2 -2.9 2.7" fill="none" stroke="#f2f2f2" stroke-width="1.2" stroke-linecap="round" opacity="0.52" filter="url(#b2)"/>
<path d="M683.6 424.7 q2.3 -1.5 2.2 -4.8" fill="none" stroke="#f2f2f2" stroke-width="1.2" stroke-linecap="round" opacity="0.73" filter="url(#b2)"/>
<path d="M666.5 443.9 q-2.2 1.4 -2.3 5.1" fill="none" stroke="#f2f2f2" stroke-width="1.2" stroke-linecap="round" opacity="0.84" filter="url(#b2)"/>
<path d="M678.0 443.3 q-1.1 -2.8 -0.1 -5.0" fill="none" stroke="#f2f2f2" stroke-width="1.2" stroke-linecap="round" opacity="0.80" filter="url(#b2)"/>
<path d="M551.8 472.7 q1.3 -3.7 -1.3 -4.6" fill="none" stroke="#f2f2f2" stroke-width="1.2" stroke-linecap="round" opacity="0.52" filter="url(#b2)"/>
<path d="M409.6 480.6 q3.3 5.1 4.8 6.1" fill="none" stroke="#f2f2f2" stroke-width="1.2" stroke-linecap="round" opacity="0.92" filter="url(#b2)"/>
<path d="M452.7 473.9 q0.7 2.6 5.2 3.9" fill="none" stroke="#f2f2f2" stroke-width="1.2" stroke-linecap="round" opacity="0.67" filter="url(#b2)"/>
<path d="M459.8 478.6 q-2.9 -4.6 -4.0 -8.0" fill="none" stroke="#f2f2f2" stroke-width="1.2" stroke-linecap="round" opacity="0.93" filter="url(#b2)"/>
<path d="M419.8 498.9 q-0.5 0.1 -3.5 -2.3" fill="none" stroke="#f2f2f2" stroke-width="1.2" stroke-linecap="round" opacity="0.69" filter="url(#b2)"/>
<path d="M407.9 483.2 q-2.0 2.8 -1.5 6.7" fill="none" stroke="#f2f2f2" stroke-width="1.2" stroke-linecap="round" opacity="0.90" filter="url(#b2)"/>
<path d="M404.8 481.1 q0.0 0.3 3.7 4.3" fill="none" stroke="#f2f2f2" stroke-width="1.2" stroke-linecap="round" opacity="0.53" filter="url(#b2)"/>
<path d="M547.2 476.2 q0.8 2.3 3.0 6.4" fill="none" stroke="#f2f2f2" stroke-width="1.2" stroke-linecap="round" opacity="0.93" filter="url(#b2)"/>
<path d="M498.7 476.4 q0.4 -3.5 2.6 -2.9" fill="none" stroke="#f2f2f2" stroke-width="1.2" stroke-linecap="round" opacity="0.84" filter="url(#b2)"/>
<path d="M546.6 488.3 q1.6 -3.9 5.3 -7.6" fill="none" stroke="#f2f2f2" stroke-width="1.2" stroke-linecap="round" opacity="0.93" filter="url(#b2)"/>
<path d="M552.6 480.4 q-1.5 1.2 -3.0 -1.1" fill="none" stroke="#f2f2f2" stroke-width="1.2" stroke-linecap="round" opacity="0.58" filter="url(#b2)"/>
<path d="M528.4 491.6 q2.4 1.5 3.9 4.4" fill="none" stroke="#f2f2f2" stroke-width="1.2" stroke-linecap="round" opacity="0.64" filter="url(#b2)"/>
<path d="M457.9 493.0 q-1.5 -3.4 -5.1 -4.8" fill="none" stroke="#f2f2f2" stroke-width="1.2" stroke-linecap="round" opacity="0.53" filter="url(#b2)"/>
<path d="M405.4 485.7 q0.5 5.8 -2.1 7.7" fill="none" stroke="#f2f2f2" stroke-width="1.2" stroke-linecap="round" opacity="0.62" filter="url(#b2)"/>
<path d="M413.5 471.1 q-0.2 0.6 -0.0 3.4" fill="none" stroke="#f2f2f2" stroke-width="1.2" stroke-linecap="round" opacity="0.69" filter="url(#b2)"/>
<path d="M499.2 489.6 q2.1 1.3 3.0 5.6" fill="none" stroke="#f2f2f2" stroke-width="1.2" stroke-linecap="round" opacity="0.88" filter="url(#b2)"/>
<path d="M447.0 486.1 q-2.0 0.9 -1.5 3.8" fill="none" stroke="#f2f2f2" stroke-width="1.2" stroke-linecap="round" opacity="0.61" filter="url(#b2)"/>
<path d="M424.5 496.3 q0.1 0.6 0.9 -2.8" fill="none" stroke="#f2f2f2" stroke-width="1.2" stroke-linecap="round" opacity="0.73" filter="url(#b2)"/>
<path d="M560.0 393.7 q-0.7 3.8 1.8 7.9" fill="none" stroke="#f2f2f2" stroke-width="1.1" stroke-linecap="round" opacity="0.87" filter="url(#b2)"/>
<path d="M599.6 402.7 q-4.3 -2.9 -5.5 -3.3" fill="none" stroke="#f2f2f2" stroke-width="1.1" stroke-linecap="round" opacity="0.94" filter="url(#b2)"/>
<path d="M582.9 404.1 q-1.0 2.0 -1.5 5.9" fill="none" stroke="#f2f2f2" stroke-width="1.1" stroke-linecap="round" opacity="0.85" filter="url(#b2)"/>
<path d="M606.5 334.0 q-0.6 0.4 1.2 1.9" fill="none" stroke="#f2f2f2" stroke-width="1.1" stroke-linecap="round" opacity="0.56" filter="url(#b2)"/>
<path d="M558.3 346.7 q-0.6 -0.7 1.2 2.4" fill="none" stroke="#f2f2f2" stroke-width="1.1" stroke-linecap="round" opacity="0.65" filter="url(#b2)"/>
<path d="M589.1 340.7 q0.1 -2.2 -2.3 -4.7" fill="none" stroke="#f2f2f2" stroke-width="1.1" stroke-linecap="round" opacity="0.53" filter="url(#b2)"/>
<path d="M551.6 358.6 q-1.3 -0.2 0.6 2.2" fill="none" stroke="#f2f2f2" stroke-width="1.1" stroke-linecap="round" opacity="0.81" filter="url(#b2)"/>
<path d="M571.6 349.1 q-1.9 3.9 -2.3 7.3" fill="none" stroke="#f2f2f2" stroke-width="1.1" stroke-linecap="round" opacity="0.66" filter="url(#b2)"/>
<path d="M572.1 398.5 q1.8 -0.2 6.0 -2.2" fill="none" stroke="#f2f2f2" stroke-width="1.1" stroke-linecap="round" opacity="0.59" filter="url(#b2)"/>
<path d="M545.4 401.6 q-0.8 4.1 -0.9 5.1" fill="none" stroke="#f2f2f2" stroke-width="1.1" stroke-linecap="round" opacity="0.71" filter="url(#b2)"/>
<path d="M461.2 326.9 q-0.2 2.2 -3.6 7.6" fill="none" stroke="#cfcfcf" stroke-width="1.2" stroke-linecap="round" opacity="0.48" filter="url(#b2)"/>
<path d="M585.6 361.4 q1.5 1.6 -0.4 6.3" fill="none" stroke="#cfcfcf" stroke-width="1.1" stroke-linecap="round" opacity="0.63" filter="url(#b2)"/>
<path d="M448.1 571.0 q-1.5 7.6 0.6 11.8" fill="none" stroke="#cfcfcf" stroke-width="1.1" stroke-linecap="round" opacity="0.67" filter="url(#b2)"/>
<path d="M627.8 539.9 q-3.2 1.3 -4.1 3.3" fill="none" stroke="#cfcfcf" stroke-width="1.4" stroke-linecap="round" opacity="0.64" filter="url(#b2)"/>
<path d="M468.6 380.4 q-0.7 2.1 -0.4 7.2" fill="none" stroke="#cfcfcf" stroke-width="1.0" stroke-linecap="round" opacity="0.60" filter="url(#b2)"/>
<path d="M606.7 522.2 q-3.4 1.4 -3.8 2.1" fill="none" stroke="#cfcfcf" stroke-width="1.2" stroke-linecap="round" opacity="0.57" filter="url(#b2)"/>
<path d="M513.5 433.5 q1.6 4.0 2.0 8.4" fill="none" stroke="#cfcfcf" stroke-width="1.1" stroke-linecap="round" opacity="0.36" filter="url(#b2)"/>
<path d="M627.3 451.7 q-1.0 1.8 -4.3 4.0" fill="none" stroke="#cfcfcf" stroke-width="0.9" stroke-linecap="round" opacity="0.52" filter="url(#b2)"/>
<path d="M441.0 356.8 q3.3 1.1 7.1 2.1" fill="none" stroke="#cfcfcf" stroke-width="0.8" stroke-linecap="round" opacity="0.57" filter="url(#b2)"/>
<path d="M431.9 515.9 q-2.0 5.1 -0.4 10.2" fill="none" stroke="#cfcfcf" stroke-width="1.1" stroke-linecap="round" opacity="0.68" filter="url(#b2)"/>
<path d="M451.6 548.4 q-2.7 3.2 -8.0 8.9" fill="none" stroke="#cfcfcf" stroke-width="1.5" stroke-linecap="round" opacity="0.52" filter="url(#b2)"/>
<path d="M750.2 563.9 q-0.4 -0.1 -4.2 3.3" fill="none" stroke="#cfcfcf" stroke-width="1.0" stroke-linecap="round" opacity="0.61" filter="url(#b2)"/>
<path d="M459.8 558.8 q-4.0 1.7 -5.2 3.4" fill="none" stroke="#cfcfcf" stroke-width="1.4" stroke-linecap="round" opacity="0.42" filter="url(#b2)"/>
<path d="M497.7 456.1 q2.0 -1.0 6.5 0.8" fill="none" stroke="#cfcfcf" stroke-width="1.5" stroke-linecap="round" opacity="0.59" filter="url(#b2)"/>
<path d="M595.2 490.4 q-2.9 1.7 -6.3 2.7" fill="none" stroke="#cfcfcf" stroke-width="1.4" stroke-linecap="round" opacity="0.39" filter="url(#b2)"/>
<path d="M763.4 488.6 q-3.8 4.1 -5.8 4.2" fill="none" stroke="#cfcfcf" stroke-width="1.2" stroke-linecap="round" opacity="0.48" filter="url(#b2)"/>
<path d="M680.3 439.3 q-3.7 3.2 -3.8 3.9" fill="none" stroke="#cfcfcf" stroke-width="1.0" stroke-linecap="round" opacity="0.57" filter="url(#b2)"/>
<path d="M760.2 477.1 q0.6 2.0 5.2 7.7" fill="none" stroke="#cfcfcf" stroke-width="0.9" stroke-linecap="round" opacity="0.57" filter="url(#b2)"/>
<path d="M559.3 457.8 q4.0 2.9 10.2 4.5" fill="none" stroke="#cfcfcf" stroke-width="0.8" stroke-linecap="round" opacity="0.35" filter="url(#b2)"/>
<path d="M531.2 351.0 q2.9 2.6 5.2 4.4" fill="none" stroke="#cfcfcf" stroke-width="0.9" stroke-linecap="round" opacity="0.57" filter="url(#b2)"/>
<path d="M574.9 358.4 q2.7 2.4 8.3 8.0" fill="none" stroke="#cfcfcf" stroke-width="1.2" stroke-linecap="round" opacity="0.65" filter="url(#b2)"/>
<path d="M686.7 428.7 q3.6 0.4 6.1 0.2" fill="none" stroke="#cfcfcf" stroke-width="1.0" stroke-linecap="round" opacity="0.58" filter="url(#b2)"/>
<path d="M563.5 569.5 q5.1 1.6 7.0 6.9" fill="none" stroke="#cfcfcf" stroke-width="1.2" stroke-linecap="round" opacity="0.49" filter="url(#b2)"/>
<path d="M488.5 338.4 q5.3 2.0 10.2 0.4" fill="none" stroke="#cfcfcf" stroke-width="0.9" stroke-linecap="round" opacity="0.42" filter="url(#b2)"/>
<path d="M623.3 456.3 q-5.1 1.8 -7.6 5.1" fill="none" stroke="#cfcfcf" stroke-width="1.0" stroke-linecap="round" opacity="0.37" filter="url(#b2)"/>
<path d="M725.7 528.9 q6.2 1.1 9.7 0.2" fill="none" stroke="#cfcfcf" stroke-width="1.1" stroke-linecap="round" opacity="0.61" filter="url(#b2)"/>
<path d="M566.7 382.4 q-0.0 1.0 3.6 3.2" fill="none" stroke="#cfcfcf" stroke-width="1.3" stroke-linecap="round" opacity="0.59" filter="url(#b2)"/>
<path d="M709.7 510.2 q-0.8 4.2 -1.0 6.0" fill="none" stroke="#cfcfcf" stroke-width="1.2" stroke-linecap="round" opacity="0.44" filter="url(#b2)"/>
<path d="M635.7 576.8 q-4.6 0.1 -5.3 2.1" fill="none" stroke="#cfcfcf" stroke-width="1.0" stroke-linecap="round" opacity="0.61" filter="url(#b2)"/>
<path d="M745.9 519.2 q-3.8 0.2 -6.2 2.4" fill="none" stroke="#cfcfcf" stroke-width="1.4" stroke-linecap="round" opacity="0.57" filter="url(#b2)"/>
<path d="M654.2 498.0 q1.9 6.7 1.1 11.8" fill="none" stroke="#cfcfcf" stroke-width="1.4" stroke-linecap="round" opacity="0.50" filter="url(#b2)"/>
<path d="M665.8 473.0 q3.0 0.3 5.1 4.0" fill="none" stroke="#cfcfcf" stroke-width="1.4" stroke-linecap="round" opacity="0.40" filter="url(#b2)"/>
<path d="M411.8 351.1 q1.2 3.2 5.4 10.1" fill="none" stroke="#cfcfcf" stroke-width="0.8" stroke-linecap="round" opacity="0.59" filter="url(#b2)"/>
<path d="M632.7 506.3 q5.2 0.5 9.7 2.0" fill="none" stroke="#cfcfcf" stroke-width="1.4" stroke-linecap="round" opacity="0.64" filter="url(#b2)"/>
<path d="M717.9 563.5 q4.3 0.4 10.9 3.8" fill="none" stroke="#cfcfcf" stroke-width="0.8" stroke-linecap="round" opacity="0.65" filter="url(#b2)"/>
<path d="M697.6 489.8 q-3.0 3.3 -4.3 9.7" fill="none" stroke="#cfcfcf" stroke-width="0.9" stroke-linecap="round" opacity="0.62" filter="url(#b2)"/>
<path d="M476.6 406.9 q2.7 -0.6 7.4 0.5" fill="none" stroke="#cfcfcf" stroke-width="1.3" stroke-linecap="round" opacity="0.48" filter="url(#b2)"/>
<path d="M518.8 576.5 q-3.1 -0.1 -7.2 3.6" fill="none" stroke="#cfcfcf" stroke-width="1.1" stroke-linecap="round" opacity="0.50" filter="url(#b2)"/>
<path d="M683.4 414.2 q-1.7 6.2 -1.1 9.6" fill="none" stroke="#cfcfcf" stroke-width="0.9" stroke-linecap="round" opacity="0.64" filter="url(#b2)"/>
<path d="M464.0 323.3 q-0.1 -0.1 -4.1 3.8" fill="none" stroke="#cfcfcf" stroke-width="1.1" stroke-linecap="round" opacity="0.52" filter="url(#b2)"/>
<path d="M582.0 414.3 q5.4 3.0 7.3 7.8" fill="none" stroke="#cfcfcf" stroke-width="1.0" stroke-linecap="round" opacity="0.59" filter="url(#b2)"/>
<path d="M583.4 351.9 q5.6 1.9 8.8 2.3" fill="none" stroke="#cfcfcf" stroke-width="1.4" stroke-linecap="round" opacity="0.57" filter="url(#b2)"/>
<path d="M531.4 428.5 q-5.0 2.8 -6.7 2.4" fill="none" stroke="#cfcfcf" stroke-width="0.8" stroke-linecap="round" opacity="0.42" filter="url(#b2)"/>
<path d="M497.8 560.0 q3.0 2.7 3.0 7.4" fill="none" stroke="#cfcfcf" stroke-width="1.1" stroke-linecap="round" opacity="0.54" filter="url(#b2)"/>
<path d="M676.6 521.0 q1.4 2.7 4.2 8.2" fill="none" stroke="#cfcfcf" stroke-width="1.4" stroke-linecap="round" opacity="0.58" filter="url(#b2)"/>
<path d="M561.7 526.4 q3.8 3.2 8.0 3.3" fill="none" stroke="#cfcfcf" stroke-width="1.0" stroke-linecap="round" opacity="0.42" filter="url(#b2)"/>
<path d="M511.7 507.9 q3.4 1.5 9.5 5.0" fill="none" stroke="#cfcfcf" stroke-width="1.0" stroke-linecap="round" opacity="0.53" filter="url(#b2)"/>
<path d="M460.6 409.3 q-1.8 -1.4 -5.5 0.4" fill="none" stroke="#cfcfcf" stroke-width="1.5" stroke-linecap="round" opacity="0.39" filter="url(#b2)"/>
<path d="M541.9 581.7 q-3.7 2.6 -6.9 7.7" fill="none" stroke="#cfcfcf" stroke-width="1.2" stroke-linecap="round" opacity="0.39" filter="url(#b2)"/>
<path d="M477.1 425.1 q1.8 2.8 1.3 4.1" fill="none" stroke="#cfcfcf" stroke-width="1.2" stroke-linecap="round" opacity="0.57" filter="url(#b2)"/>
<path d="M570.6 360.3 q2.3 5.9 2.6 8.4" fill="none" stroke="#cfcfcf" stroke-width="1.1" stroke-linecap="round" opacity="0.55" filter="url(#b2)"/>
<path d="M674.7 433.8 q-0.4 3.3 -3.7 4.5" fill="none" stroke="#cfcfcf" stroke-width="1.3" stroke-linecap="round" opacity="0.65" filter="url(#b2)"/>
<path d="M649.4 491.7 q2.6 1.6 4.2 6.4" fill="none" stroke="#cfcfcf" stroke-width="1.1" stroke-linecap="round" opacity="0.62" filter="url(#b2)"/>
<path d="M661.6 488.6 q0.5 3.4 1.4 5.8" fill="none" stroke="#cfcfcf" stroke-width="1.1" stroke-linecap="round" opacity="0.59" filter="url(#b2)"/>
<path d="M640.2 527.7 q2.0 1.7 0.2 7.1" fill="none" stroke="#cfcfcf" stroke-width="1.2" stroke-linecap="round" opacity="0.41" filter="url(#b2)"/>
<path d="M686.6 570.4 q4.2 1.4 7.7 2.5" fill="none" stroke="#cfcfcf" stroke-width="1.3" stroke-linecap="round" opacity="0.53" filter="url(#b2)"/>
<path d="M634.7 541.0 q2.9 2.8 2.3 7.9" fill="none" stroke="#cfcfcf" stroke-width="1.3" stroke-linecap="round" opacity="0.49" filter="url(#b2)"/>
<path d="M760.3 416.5 q1.0 -0.3 2.9 3.4" fill="none" stroke="#cfcfcf" stroke-width="1.1" stroke-linecap="round" opacity="0.50" filter="url(#b2)"/>
<path d="M656.2 415.6 q3.3 3.7 4.7 4.0" fill="none" stroke="#cfcfcf" stroke-width="1.2" stroke-linecap="round" opacity="0.43" filter="url(#b2)"/>
<path d="M693.7 426.1 q3.7 2.4 5.2 2.3" fill="none" stroke="#cfcfcf" stroke-width="1.2" stroke-linecap="round" opacity="0.51" filter="url(#b2)"/>
<path d="M606.6 382.4 q3.2 6.5 5.2 10.5" fill="none" stroke="#cfcfcf" stroke-width="1.4" stroke-linecap="round" opacity="0.51" filter="url(#b2)"/>
<path d="M509.1 467.2 q-2.7 2.7 -4.3 2.5" fill="none" stroke="#cfcfcf" stroke-width="1.0" stroke-linecap="round" opacity="0.48" filter="url(#b2)"/>
<path d="M494.3 435.1 q3.6 -0.9 5.5 0.0" fill="none" stroke="#cfcfcf" stroke-width="1.0" stroke-linecap="round" opacity="0.46" filter="url(#b2)"/>
<path d="M576.6 435.7 q-2.7 5.7 -4.4 8.0" fill="none" stroke="#cfcfcf" stroke-width="1.4" stroke-linecap="round" opacity="0.37" filter="url(#b2)"/>
<path d="M703.4 561.2 q6.0 2.7 9.3 4.4" fill="none" stroke="#cfcfcf" stroke-width="0.8" stroke-linecap="round" opacity="0.35" filter="url(#b2)"/>
<path d="M748.4 495.5 q1.4 -0.1 5.7 1.9" fill="none" stroke="#cfcfcf" stroke-width="1.3" stroke-linecap="round" opacity="0.47" filter="url(#b2)"/>
<path d="M457.6 560.8 q6.0 3.0 8.9 5.2" fill="none" stroke="#cfcfcf" stroke-width="1.3" stroke-linecap="round" opacity="0.58" filter="url(#b2)"/>
<path d="M727.4 530.3 q5.1 3.2 8.7 6.2" fill="none" stroke="#cfcfcf" stroke-width="1.3" stroke-linecap="round" opacity="0.50" filter="url(#b2)"/>
<path d="M723.3 469.0 q0.8 2.0 4.5 4.1" fill="none" stroke="#cfcfcf" stroke-width="0.8" stroke-linecap="round" opacity="0.51" filter="url(#b2)"/>
<path d="M454.6 452.2 q1.0 2.0 -1.0 7.9" fill="none" stroke="#cfcfcf" stroke-width="1.4" stroke-linecap="round" opacity="0.51" filter="url(#b2)"/>
<path d="M606.8 498.0 q1.7 6.8 4.1 9.9" fill="none" stroke="#cfcfcf" stroke-width="0.9" stroke-linecap="round" opacity="0.57" filter="url(#b2)"/>
<path d="M633.5 330.5 q-0.7 3.1 -4.8 7.5" fill="none" stroke="#cfcfcf" stroke-width="1.5" stroke-linecap="round" opacity="0.53" filter="url(#b2)"/>
<path d="M578.4 559.1 q-0.9 1.0 -2.7 3.3" fill="none" stroke="#cfcfcf" stroke-width="1.4" stroke-linecap="round" opacity="0.48" filter="url(#b2)"/>
<path d="M574.7 461.2 q3.7 2.8 8.0 6.2" fill="none" stroke="#cfcfcf" stroke-width="1.2" stroke-linecap="round" opacity="0.64" filter="url(#b2)"/>
<path d="M508.6 540.7 q-1.0 3.6 -0.1 7.2" fill="none" stroke="#cfcfcf" stroke-width="1.5" stroke-linecap="round" opacity="0.58" filter="url(#b2)"/>
<path d="M690.3 410.0 q2.3 3.2 3.9 5.3" fill="none" stroke="#cfcfcf" stroke-width="1.3" stroke-linecap="round" opacity="0.36" filter="url(#b2)"/>
<path d="M665.1 555.9 q3.3 -1.3 8.3 1.3" fill="none" stroke="#cfcfcf" stroke-width="0.9" stroke-linecap="round" opacity="0.67" filter="url(#b2)"/>
<path d="M623.6 496.1 q-4.5 1.9 -9.9 2.9" fill="none" stroke="#cfcfcf" stroke-width="1.2" stroke-linecap="round" opacity="0.59" filter="url(#b2)"/>
<path d="M619.1 502.1 q-1.6 3.5 -2.9 4.9" fill="none" stroke="#cfcfcf" stroke-width="0.9" stroke-linecap="round" opacity="0.41" filter="url(#b2)"/>
<path d="M415.5 526.7 q-3.2 6.3 -5.3 10.0" fill="none" stroke="#cfcfcf" stroke-width="1.4" stroke-linecap="round" opacity="0.55" filter="url(#b2)"/>
<path d="M495.9 402.4 q1.7 3.7 4.0 6.2" fill="none" stroke="#cfcfcf" stroke-width="1.5" stroke-linecap="round" opacity="0.37" filter="url(#b2)"/>
<circle cx="450.9" cy="354.7" r="3.4" fill="#8a8a8a" stroke="#d4d4d4" stroke-width="1.7" filter="url(#b5)"/>
<circle cx="511.0" cy="366.3" r="2.8" fill="#8a8a8a" stroke="#d4d4d4" stroke-width="1.7" filter="url(#b5)"/>
<circle cx="522.6" cy="375.5" r="2.9" fill="#8a8a8a" stroke="#d4d4d4" stroke-width="1.7" filter="url(#b5)"/>
<circle cx="427.8" cy="412.5" r="3.6" fill="#8a8a8a" stroke="#d4d4d4" stroke-width="1.7" filter="url(#b5)"/>
<circle cx="446.3" cy="424.1" r="3.4" fill="#8a8a8a" stroke="#d4d4d4" stroke-width="1.7" filter="url(#b5)"/>
<circle cx="420.8" cy="437.9" r="3.7" fill="#8a8a8a" stroke="#d4d4d4" stroke-width="1.7" filter="url(#b5)"/>
<circle cx="432.4" cy="454.1" r="3.2" fill="#8a8a8a" stroke="#d4d4d4" stroke-width="1.7" filter="url(#b5)"/>
<circle cx="460.1" cy="458.8" r="2.8" fill="#8a8a8a" stroke="#d4d4d4" stroke-width="1.7" filter="url(#b5)"/>
<circle cx="409.3" cy="419.4" r="3.2" fill="#8a8a8a" stroke="#d4d4d4" stroke-width="1.7" filter="url(#b5)"/>
<circle cx="561.9" cy="361.6" r="3.4" fill="#8a8a8a" stroke="#d4d4d4" stroke-width="1.7" filter="url(#b5)"/>
<circle cx="575.8" cy="375.5" r="3.7" fill="#8a8a8a" stroke="#d4d4d4" stroke-width="1.7" filter="url(#b5)"/>
<circle cx="585.0" cy="347.8" r="3.8" fill="#8a8a8a" stroke="#d4d4d4" stroke-width="1.7" filter="url(#b5)"/>
<circle cx="552.6" cy="380.1" r="3.3" fill="#8a8a8a" stroke="#d4d4d4" stroke-width="1.7" filter="url(#b5)"/>
<circle cx="603.5" cy="389.4" r="3.2" fill="#8a8a8a" stroke="#d4d4d4" stroke-width="1.7" filter="url(#b5)"/>
<circle cx="568.8" cy="398.6" r="2.9" fill="#8a8a8a" stroke="#d4d4d4" stroke-width="1.7" filter="url(#b5)"/>
<circle cx="592.0" cy="435.6" r="3.4" fill="#8a8a8a" stroke="#d4d4d4" stroke-width="1.7" filter="url(#b5)"/>
<circle cx="612.8" cy="449.5" r="3.0" fill="#8a8a8a" stroke="#d4d4d4" stroke-width="1.7" filter="url(#b5)"/>
<circle cx="751.5" cy="442.6" r="3.0" fill="#8a8a8a" stroke="#d4d4d4" stroke-width="1.7" filter="url(#b5)"/>
<circle cx="733.0" cy="458.8" r="2.8" fill="#8a8a8a" stroke="#d4d4d4" stroke-width="1.7" filter="url(#b5)"/>
<circle cx="446.3" cy="481.9" r="2.8" fill="#8a8a8a" stroke="#d4d4d4" stroke-width="1.7" filter="url(#b5)"/>
<circle cx="529.5" cy="477.3" r="3.5" fill="#8a8a8a" stroke="#d4d4d4" stroke-width="1.7" filter="url(#b5)"/>
<circle cx="552.6" cy="479.6" r="2.9" fill="#8a8a8a" stroke="#d4d4d4" stroke-width="1.7" filter="url(#b5)"/>
<circle cx="594.3" cy="495.8" r="3.8" fill="#8a8a8a" stroke="#d4d4d4" stroke-width="1.7" filter="url(#b5)"/>
<circle cx="612.8" cy="491.1" r="2.9" fill="#8a8a8a" stroke="#d4d4d4" stroke-width="1.7" filter="url(#b5)"/>
<circle cx="557.3" cy="509.6" r="3.7" fill="#8a8a8a" stroke="#d4d4d4" stroke-width="1.7" filter="url(#b5)"/>
<circle cx="575.8" cy="518.9" r="2.9" fill="#8a8a8a" stroke="#d4d4d4" stroke-width="1.7" filter="url(#b5)"/>
<circle cx="589.6" cy="523.5" r="2.8" fill="#8a8a8a" stroke="#d4d4d4" stroke-width="1.7" filter="url(#b5)"/>
<circle cx="603.5" cy="514.3" r="3.5" fill="#8a8a8a" stroke="#d4d4d4" stroke-width="1.7" filter="url(#b5)"/>
<circle cx="617.4" cy="505.0" r="3.0" fill="#8a8a8a" stroke="#d4d4d4" stroke-width="1.7" filter="url(#b5)"/>
<circle cx="552.6" cy="532.8" r="3.5" fill="#8a8a8a" stroke="#d4d4d4" stroke-width="1.7" filter="url(#b5)"/>
<circle cx="566.5" cy="542.0" r="3.0" fill="#8a8a8a" stroke="#d4d4d4" stroke-width="1.7" filter="url(#b5)"/>
<circle cx="663.6" cy="523.5" r="2.9" fill="#8a8a8a" stroke="#d4d4d4" stroke-width="1.7" filter="url(#b5)"/>
<circle cx="677.5" cy="516.6" r="3.6" fill="#8a8a8a" stroke="#d4d4d4" stroke-width="1.7" filter="url(#b5)"/>
<circle cx="696.0" cy="523.5" r="3.5" fill="#8a8a8a" stroke="#d4d4d4" stroke-width="1.7" filter="url(#b5)"/>
<circle cx="714.5" cy="535.1" r="3.7" fill="#8a8a8a" stroke="#d4d4d4" stroke-width="1.7" filter="url(#b5)"/>
<circle cx="677.5" cy="537.4" r="3.5" fill="#8a8a8a" stroke="#d4d4d4" stroke-width="1.7" filter="url(#b5)"/>
<circle cx="700.6" cy="530.5" r="2.9" fill="#8a8a8a" stroke="#d4d4d4" stroke-width="1.7" filter="url(#b5)"/>
<circle cx="659.0" cy="542.0" r="3.4" fill="#8a8a8a" stroke="#d4d4d4" stroke-width="1.7" filter="url(#b5)"/>
<circle cx="744.6" cy="537.4" r="3.5" fill="#8a8a8a" stroke="#d4d4d4" stroke-width="1.7" filter="url(#b5)"/>
<circle cx="497.1" cy="546.6" r="3.3" fill="#8a8a8a" stroke="#d4d4d4" stroke-width="1.7" filter="url(#b5)"/>
<circle cx="427.8" cy="532.8" r="3.7" fill="#8a8a8a" stroke="#d4d4d4" stroke-width="1.7" filter="url(#b5)"/>
<circle cx="409.3" cy="505.0" r="3.1" fill="#8a8a8a" stroke="#d4d4d4" stroke-width="1.7" filter="url(#b5)"/>
<circle cx="742.3" cy="472.6" r="3.8" fill="#8a8a8a" stroke="#d4d4d4" stroke-width="1.7" filter="url(#b5)"/>
<circle cx="756.2" cy="560.5" r="3.5" fill="#8a8a8a" stroke="#d4d4d4" stroke-width="1.7" filter="url(#b5)"/>
</g>
<clipPath id="insclip"><rect x="667.4" y="320.7" width="101.1" height="86.8"/></clipPath>
<g clip-path="url(#insclip)">
<rect x="667.4" y="320.7" width="101.1" height="86.8" fill="#545454" />
<path d="M667 320 L769 320 L769 326 L730 357.5 L710 377 L705.6 390 L690 408 L667 408 Z" fill="#686868" filter="url(#b1)"/>
<ellipse cx="748" cy="380.5" rx="12" ry="11" fill="#6c6c6c" filter="url(#b1)"/>
<path d="M770 326 C766.7 328.7 756.7 336.8 750.0 342.0 C743.3 347.2 736.3 352.3 730.0 357.5 C723.7 362.7 716.3 368.6 712.0 373.0 C707.7 377.4 705.3 382.2 704.0 384.0" fill="none" stroke="#c2c2c2" stroke-width="3.4" filter="url(#b2)"/>
<ellipse cx="696.8" cy="383.7" rx="10.5" ry="8.8" fill="#a6a6a6" filter="url(#b2)"/>
<ellipse cx="699" cy="352.5" rx="15.5" ry="18.5" transform="rotate(20 699 352.5)" fill="none" stroke="#b0b0b0" stroke-width="6.5" filter="url(#b2)"/>
<ellipse cx="701" cy="352" rx="7" ry="12" transform="rotate(25 701 352)" fill="#5e5e5e" filter="url(#b2)"/>
<path d="M694 364 L705 344" stroke="#9a9a9a" stroke-width="2.4" filter="url(#b2)"/>
</g>
<rect x="400" y="320.6" width="30.6" height="25" fill="#ffffff" />
<text x="400.95" y="339.58" font-size="21.8" font-weight="bold" fill="#1a1a1a" textLength="28.24" lengthAdjust="spacingAndGlyphs" stroke="#1a1a1a" stroke-width="0.55">(d)</text>
<text x="663.8" y="563.75" font-size="17.8" font-weight="normal" fill="#fff" textLength="63.91" lengthAdjust="spacingAndGlyphs" >500 nm</text>
<rect x="673" y="571.4" width="45.6" height="3.6" fill="#ffffff" />
<text x="718.1" y="387.15" font-size="13.6" font-weight="normal" fill="#fff" textLength="50.14" lengthAdjust="spacingAndGlyphs" >100 nm</text>
<rect x="723.8" y="396.8" width="39.3" height="2.5" fill="#ffffff" />
</g></svg></body></html>
